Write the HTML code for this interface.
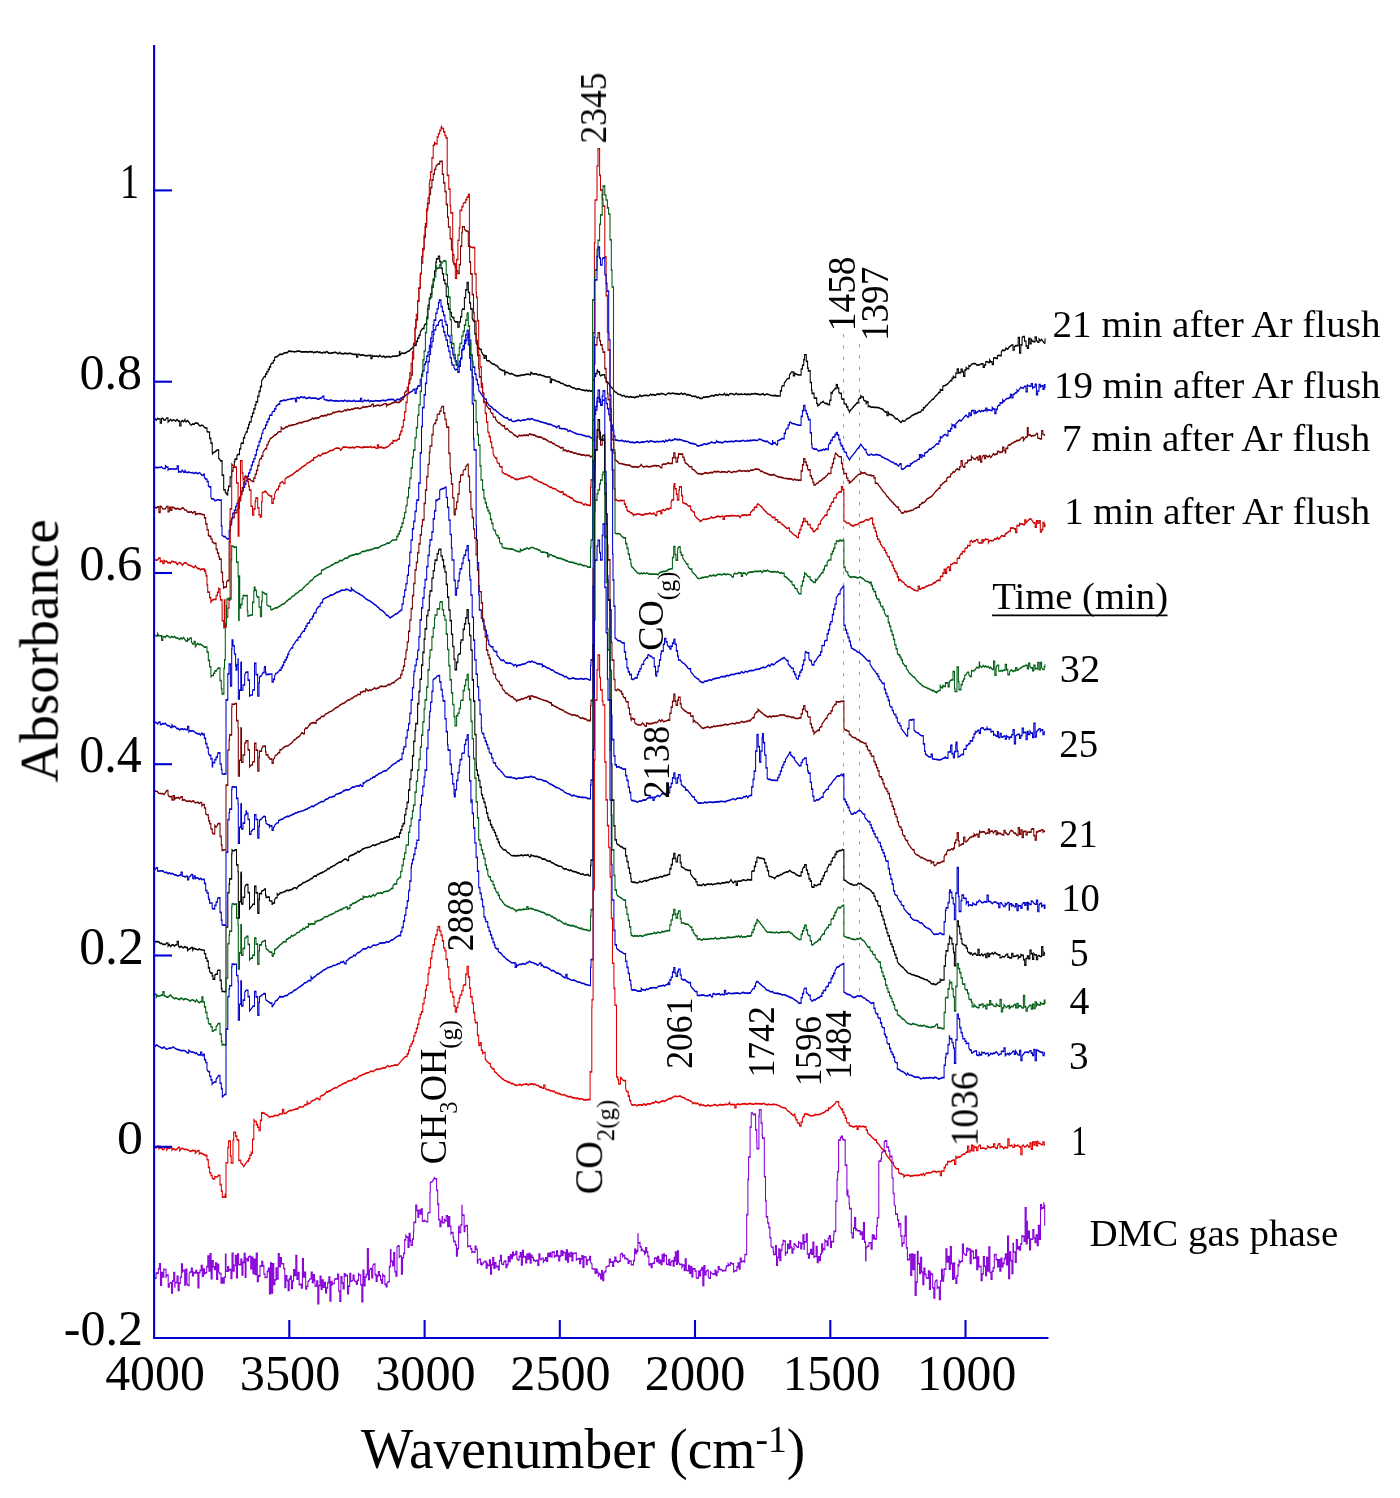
<!DOCTYPE html>
<html><head><meta charset="utf-8"><title>IR spectra</title><style>
html,body{margin:0;padding:0;background:#fff;overflow:hidden;width:1400px;height:1498px;}
svg{display:block;}
text{font-family:"Liberation Serif", serif;fill:#000;}
</style></head><body>
<svg width="1400" height="1498" viewBox="0 0 1400 1498">
<rect width="1400" height="1498" fill="#fff"/>
<path d="M843.6 334 V962" stroke="#9a9a9a" stroke-width="1" stroke-dasharray="3.3 8"/><path d="M859.5 344 V995" stroke="#9a9a9a" stroke-width="1" stroke-dasharray="3.3 8"/>
<g transform="scale(1,1.6)"><path d="M155.0 261.63L156.3 262.64L157.6 261.49L158.9 261.89H160.2V264.36H161.5V261.73L162.8 261.43L164.1 262.62L165.4 262.51L166.7 261.26H168.0V263.74L169.3 263.02L170.6 262.10L171.9 263.09L173.2 262.37L174.5 262.65L175.8 263.19L177.1 262.09L178.4 263.17H179.7V266.10H181.0V263.70L182.3 262.84L183.6 263.57L184.9 262.21L185.0 263.10L186.2 263.59L187.5 262.80L188.8 263.74L190.1 264.98L191.4 265.71L192.7 264.90L194.0 265.15L195.3 264.37L196.6 264.46L197.9 264.57L199.2 265.89L200.5 266.24L201.8 265.67L203.0 266.04L204.4 266.98L205.7 267.55L206.0 267.48H207.0V269.68L207.7 269.98H209.6V274.04H210.9V276.69L210.9 276.90H212.2V282.71L212.5 283.70L213.5 282.77L214.8 282.47L216.1 281.80L217.3 281.29H218.7V286.40L220.0 287.22L220.5 288.06H222.1V296.90H223.7V306.11H225.2V307.67L226.5 308.41L226.9 309.12H227.8V306.41H228.5V304.03H230.1V298.13H231.7V294.54H233.0V292.22L233.3 291.93H234.3V288.43H234.9V286.93H236.9V284.73L238.1 283.99H239.5V280.61H240.8V278.00L241.3 276.92H243.4V273.63H244.7V272.05L246.0 270.74L246.2 269.97H247.3V267.62H248.6V265.42H249.4V263.73H251.2V260.39H252.5V257.80L252.6 258.19H253.8V255.54H255.1V253.07H256.0V251.16H257.7V247.72H259.0V244.59H260.3V241.67H261.6V238.39L262.0 237.54L262.9 236.78L264.2 235.43H265.5V233.83H266.8V232.33H268.1V230.86H269.4V229.35H270.7V227.90L272.0 226.87H273.3V225.31H274.6V223.42L275.4 223.11L277.2 222.92L278.5 222.18L279.8 221.37L281.1 221.49L282.4 221.39L283.7 220.86L285.0 220.32L286.3 220.59L287.6 220.25L288.8 219.37L290.2 219.65L291.5 219.56L292.8 219.71L294.1 219.94L295.4 219.80L296.7 219.63L298.0 219.46L299.3 219.46L300.6 219.72L301.9 220.09L303.2 219.88L304.5 219.85L305.8 219.95L307.1 219.92L308.4 220.11L309.7 219.68L310.0 219.83L311.0 219.90L312.3 219.73L313.6 220.54L314.9 220.07L316.2 220.07L317.5 219.74L318.8 220.28L320.1 220.06L321.4 220.58L322.7 220.53L324.0 220.11L325.3 220.47L326.6 219.62L327.9 220.23L329.2 220.80L330.5 220.70L331.8 220.56L333.1 220.53L334.4 220.17L335.7 220.22L336.8 220.64L338.3 221.19L339.6 220.15L340.9 220.99L342.2 221.05L343.5 221.21L344.8 220.76L346.1 220.91L347.4 221.13L348.7 220.89L350.0 220.90L351.3 221.06L352.6 221.34L353.9 221.53L355.2 221.48H356.5V223.04H357.8V221.42L359.1 221.47L360.4 222.05L361.7 221.78L363.0 221.83L363.5 221.95L365.6 222.32L366.9 222.39L368.2 222.21L369.5 222.14H370.8V223.94H372.1V222.33L373.4 222.74L374.7 222.49L376.0 222.64L377.3 222.52L378.6 222.97L379.9 222.07L381.2 222.82L382.5 222.98L383.8 222.51L385.1 223.50L386.4 222.91L387.7 222.97L389.0 222.77L390.0 223.20L391.6 222.99L392.9 222.60L394.2 222.66L395.5 222.63L396.8 222.62L398.1 222.17H399.4V219.74H400.0V221.83L402.0 220.67L403.3 220.75L404.6 220.80L405.9 220.37L407.2 219.84L408.5 219.42L409.0 219.51L411.1 218.14L412.4 217.51L413.7 216.55L415.0 215.57L415.0 215.76H416.3V213.32H417.6V211.38H418.9V209.64H420.2V207.60L420.4 207.45L421.5 206.19L422.8 205.28H424.1V203.66L425.2 202.53H426.7V198.96H428.0V190.55L428.0 190.72H429.3V186.63H430.6V183.64H431.9V179.37L432.0 179.40H433.2V174.36H434.5V169.49H435.8V164.01H436.4V161.85H438.3V160.14H439.7V163.56H441.0V167.64H442.3V170.34L442.6 171.15H443.6V175.04H444.9V177.36H446.2V185.32H447.5V189.97H448.4V193.22H450.1V195.34H451.4V197.41L452.7 198.49H454.0V199.98L455.3 201.15L456.6 201.12H457.8V204.39H459.2V201.23H460.5V198.09H461.8V194.33L462.4 193.17H464.4V186.11H465.7V181.15H467.0V176.92L467.0 176.68H468.3V182.82H469.6V189.31H470.6V193.04H472.2V199.16L473.5 200.52H474.8V208.75H476.1V214.08L476.4 214.91H477.4V217.78L478.7 217.13L480.0 218.38H481.3V219.80L482.6 221.14L483.5 221.98H484.0V223.82H485.2V222.41H486.5V225.15L487.8 225.62L489.1 225.35L490.4 226.49L491.7 227.05L493.0 227.61L493.4 227.55L494.3 227.52L495.6 228.37L496.9 228.43L498.2 229.52L499.5 230.70L500.8 230.88L502.1 231.49L503.4 231.67H504.7V234.14H505.0V232.41L506.0 232.75L507.3 232.77L508.6 233.09L509.9 233.87L511.2 233.36L512.5 233.73L513.8 234.24L515.1 234.63L516.4 234.90L516.7 234.88L517.7 234.96L519.0 234.74L520.3 234.75L521.6 234.23L522.9 234.47L524.2 234.34L525.5 233.97L526.8 233.97L528.1 233.75L529.4 234.16H530.7V232.78L532.0 233.13L533.0 233.80L534.6 233.58L535.9 233.70L537.2 233.98L538.5 234.50L539.8 234.04L541.1 234.47L542.4 234.84L543.7 234.77L545.0 235.42L546.3 235.61L547.0 235.57L548.9 235.63H550.2V238.94H551.5V236.95L552.8 237.28L554.1 237.53L555.4 237.85L556.7 238.43L558.0 238.54L559.3 238.71L560.6 239.43L561.9 239.59L563.2 239.70L563.5 239.92L564.5 240.55L565.8 240.69L567.1 241.36L568.4 240.95L569.7 241.17L571.0 241.79L572.3 242.35L573.6 242.42L574.9 242.67L576.2 243.37L577.5 243.06L577.5 243.02L578.8 243.03L580.1 243.27L581.4 243.58L582.7 243.88L584.0 243.82L585.3 244.25L586.6 243.70L587.9 244.59L589.2 243.94L590.5 244.61L591.5 244.30H592.5V237.53H594.4V235.04H595.7V233.48H597.0V231.85L597.3 231.23L598.3 232.40H599.6V234.01L600.5 234.89L602.2 234.37L603.0 234.24H604.8V236.10H606.1V237.96L607.4 238.78L608.7 239.57L610.0 240.86L610.2 241.33L611.3 241.99L612.6 242.71L613.9 243.91L614.9 244.91L616.5 245.28L617.8 246.23L619.1 246.52L620.4 246.55L621.7 247.28L621.9 247.40L623.0 247.22L624.3 247.20L625.6 248.19L626.9 247.68L628.2 248.00L629.5 248.15L630.8 247.87L632.1 248.20L633.4 248.27L633.6 248.14L634.7 248.66L636.0 248.04L637.3 247.81L638.6 247.97L639.9 246.74L641.2 247.90L642.5 247.40L643.8 247.20L645.1 247.10L646.4 247.08L647.7 247.29L649.0 247.33L650.3 246.37L651.6 246.92L652.9 246.53L654.2 246.94L655.5 246.92L656.8 246.36L657.0 246.52L658.1 246.24L659.4 246.56L660.7 245.93L662.0 246.01L663.3 246.07L664.6 246.54L665.9 246.81L667.2 246.08L668.5 245.66L669.8 245.97L670.0 245.86L671.1 246.09L672.4 245.67L673.7 245.91L675.0 246.04L676.3 246.21L677.6 246.07L678.9 246.48L680.2 246.18L681.5 245.67L682.8 246.46L684.1 246.15L685.0 245.87L686.7 246.96L688.0 246.47L689.3 246.99L690.6 246.98L691.9 247.78L693.2 247.51L694.5 247.90L695.8 247.66L697.1 248.67L698.4 248.18L699.7 248.96L700.0 248.84L701.0 248.98L702.3 249.00L703.6 248.02L704.9 248.31L706.2 248.09L707.5 248.03L708.8 248.07L710.1 247.65L711.4 247.24L712.7 247.30L714.0 247.61L715.3 246.70L716.6 246.91L716.7 246.79L717.9 247.16L719.2 246.36L720.5 246.69L721.8 246.73L723.1 246.77L724.4 245.90L725.7 247.11L727.0 246.36L728.3 247.22L729.6 246.25L730.9 246.03L732.2 246.11L733.5 246.56L734.8 246.62L736.1 245.82L737.4 246.54L738.7 246.31L740.0 246.56L741.3 246.22L742.6 246.55L743.9 246.43L744.8 246.15L746.5 246.66L747.8 246.31L749.1 246.46L750.4 246.60L751.7 245.98L753.0 246.23L754.3 246.02L755.6 245.98L756.9 246.32L758.2 246.35L759.5 246.62L760.8 246.64L762.1 246.24L763.4 246.01L763.5 246.52L764.7 246.95L766.0 246.43L767.3 246.31L768.6 246.56L769.9 246.87L771.2 247.21L772.5 247.28L773.8 247.24L775.1 247.15L776.4 247.38L777.7 247.35L778.4 247.51H780.3V244.26H781.6V242.24L782.1 241.09H784.2V239.43L785.5 238.37L786.8 237.07L787.8 236.55H789.4V234.51L790.7 233.19L791.5 232.48H793.3V234.86H794.6V233.11L795.9 233.91L797.2 233.98L798.5 234.34L799.0 234.39H801.1V230.64H802.4V228.38L802.7 228.20H803.7V224.74H804.6V221.73H806.3V225.85H807.6V230.05H808.3V231.81H810.2V239.08H811.5V243.88H812.0V245.90H814.1V248.68L815.4 248.84H816.7V252.17H817.7V253.58L819.3 253.05L820.6 251.85L821.9 251.44L823.2 250.92L823.3 251.23L824.5 251.92L825.8 252.24L827.1 252.12L828.0 252.94H829.7V250.14H831.0V245.34L832.3 245.82L832.6 244.70L833.6 243.99L834.9 242.91H836.2V240.48L836.4 240.60H837.5V242.51H838.8V245.28L840.1 245.90H841.4V248.60L842.0 249.40H844.0V251.45L845.3 252.76H846.6V254.28H847.9V255.77L849.2 256.92L849.4 257.63L850.5 256.36L851.8 255.58L853.1 254.54L854.4 253.63L855.7 252.80L856.9 251.81H858.3V249.97L859.6 248.81H860.7V247.30L862.2 248.25H863.5V249.85L864.8 250.64H866.1V252.18L867.4 251.17H868.1V253.97L870.0 253.93L871.3 254.60L872.6 254.39L873.9 254.56L875.2 254.52L876.5 254.66L877.8 254.75L878.7 254.75L880.4 255.34L881.7 255.50L883.0 256.00L884.3 257.03L885.6 257.54H886.9V259.70H888.2V257.61L889.5 258.98L890.8 259.09L892.1 259.44L893.4 259.93L893.6 259.97L894.7 261.08L896.0 261.75L897.3 261.67L898.6 262.61L899.9 263.45L901.1 264.11L902.5 262.80L903.8 263.27L905.1 263.00L906.4 261.96L907.7 261.57L908.6 261.35L910.3 260.78L911.6 259.87L912.9 259.48L914.2 259.08L915.5 258.54L916.8 258.50L918.1 257.92L919.4 257.64L919.8 257.56L920.7 257.44L922.0 256.18H923.3V254.78L924.6 254.89L925.9 253.65L927.2 253.20L928.5 251.93L929.8 251.33L931.1 250.38L932.4 249.61L933.7 249.32L934.8 248.04L936.3 247.19L937.6 246.34L938.9 245.20H940.2V243.50L941.5 243.80H942.8V241.41L944.1 241.16L945.4 240.80L946.7 240.38L948.0 239.74L949.3 238.86L950.6 237.88H951.9V236.48H953.2V234.72L953.5 235.58L954.5 235.82H955.8V233.30H957.1V230.70H958.4V233.12L959.7 232.91H961.0V230.83H962.3V232.29H963.6V235.08H964.9V231.16H966.2V229.72L967.5 230.49H968.8V228.55L970.1 229.00L971.4 227.75L972.1 227.49L974.0 227.25L975.3 227.26L976.6 228.03L977.9 228.20L979.2 228.12L980.5 227.64L981.8 227.37H983.1V229.49H984.4V228.11H985.7V226.21L987.0 225.96L988.3 226.45H989.6V224.88L990.8 226.18H992.2V227.76H993.5V223.86L994.8 223.55L996.1 224.00H997.4V222.45L998.7 222.03L1000.0 222.23H1001.3V219.96L1002.6 218.74L1003.9 219.10L1005.2 218.85L1005.8 217.58L1007.8 218.24L1009.1 216.91L1010.4 216.45L1011.7 215.63H1013.0V218.73H1014.3V216.86L1015.6 216.06L1016.9 216.02H1018.2V211.07H1019.5V220.57H1020.8V215.53H1022.1V210.81L1023.4 210.42H1024.5V213.14H1026.0V216.21H1027.3V217.61H1028.6V211.66H1029.9V214.82H1031.2V211.97L1032.5 213.23L1033.8 213.48H1035.1V210.66H1036.4V212.55L1037.7 213.81H1039.0V211.82L1040.3 212.99L1041.6 212.05L1042.9 213.33L1044.2 214.34H1045.0V211.44" fill="none" stroke="#000000" stroke-width="1.05"/>
<path d="M155.0 291.92L156.3 292.22L157.6 292.31L158.9 292.05L160.2 292.30L161.5 291.68L162.8 292.69L164.1 292.81H165.4V291.09L166.7 291.90H168.0V293.73L169.3 292.99L170.6 293.18L171.9 293.13L173.2 293.08L174.5 293.29L175.8 293.00H177.1V291.25H178.4V295.01L179.7 294.62L181.0 295.19L182.3 293.82L183.6 295.06H184.9V293.62L185.0 293.94L186.2 295.17L187.5 295.43L188.8 294.97L190.1 295.30L191.4 295.47L192.7 295.38L194.0 296.03L195.3 295.22L196.6 295.72L197.9 296.07L199.2 295.37L200.5 295.93L201.8 296.92L203.1 297.05L203.4 296.46H204.4V298.43L205.7 299.43H207.0V300.99L207.4 300.93H208.3V303.75L209.6 304.25H210.9V310.41L211.4 311.70L213.5 311.77L214.8 312.82L216.1 312.71L217.4 312.36L218.7 312.33L219.4 312.57H221.3V328.63H222.0V334.54L223.9 335.44L225.2 335.21L226.5 336.49L227.4 336.85H229.1V331.55H230.4V327.90H231.7V323.97H232.7V320.91H234.3V318.89H235.6V316.56H236.9V314.56H238.2V312.48H239.5V310.76H240.8V308.10L242.1 306.74H243.4V304.36L243.4 304.50H244.7V302.60H246.0V300.16H247.3V297.71H248.6V295.73H249.9V293.57H251.2V290.87L251.4 290.91H252.5V288.64H253.8V286.73H255.1V284.34H256.4V281.16H257.7V278.73H259.0V276.01H260.3V273.97H261.6V271.63L262.0 270.78H262.9V269.01L264.2 267.80H265.5V265.67H266.8V263.68H268.1V261.96H269.4V260.01L270.0 259.42H272.0V257.76L273.3 257.04H274.6V255.51H275.9V254.08L277.2 253.27L278.5 252.59H279.8V251.03L280.8 250.56L282.4 250.59L283.7 249.91L285.0 250.37L286.3 250.08L287.6 249.67L288.9 249.67L290.2 249.38L291.5 249.26L292.8 249.13L294.1 249.07H295.4V250.83H296.7V248.55L298.0 248.33L299.3 249.03L300.6 247.99L301.9 248.10L302.0 248.23L303.2 248.50L304.5 248.11L305.8 248.97L307.1 248.99L308.4 248.50L309.7 248.34L311.0 248.96L312.3 248.82L313.6 248.88L314.9 248.83L316.2 248.98L317.5 249.29L318.8 249.59L320.1 248.85L321.4 248.86L322.7 247.74H324.0V249.48L325.3 250.00L326.6 249.93L327.9 250.34L329.2 250.34L330.5 250.10L331.8 250.23L333.1 250.46L334.4 250.67L335.7 250.38L336.8 250.50L338.3 250.66L339.6 250.62L340.9 250.59L342.2 250.35L343.5 250.80L344.8 250.15L346.1 250.50L347.4 250.99L348.7 250.32L350.0 250.75L351.3 250.76L352.6 250.75L353.9 250.16L355.2 250.92L356.5 250.67L357.8 250.77L359.1 250.72H360.4V249.07H361.7V250.98L363.0 251.04L364.3 250.11L365.6 250.41L366.9 250.59L368.2 250.02L369.5 251.04L370.8 250.42L372.1 250.79L373.4 250.69L374.7 250.57L376.0 250.35L376.8 250.60L378.6 250.56L379.9 250.69L381.2 250.34L382.5 250.22L383.8 250.19L385.1 250.55L386.4 250.20L387.7 249.86L389.0 249.62L390.3 249.79L391.6 249.58L392.9 249.65L394.2 250.08L395.5 250.97L396.8 249.62L398.1 249.60L399.4 249.90L400.0 249.28L402.0 248.70L403.3 248.00L404.6 247.57L405.9 247.03L407.2 246.39L408.5 246.11L409.3 245.45L411.1 244.88L412.4 244.38L413.7 243.32H415.0V245.72H416.3V242.91H417.6V241.52L418.7 241.22H420.2V237.24H421.5V233.99H422.4V231.82H424.1V227.69H425.4V226.19H426.7V222.56H428.0V220.03L428.0 220.00H429.3V216.05H430.6V211.54H431.9V207.33H433.2V203.00H434.0V200.07H435.8V195.77H437.1V192.95H438.4V189.19H439.3V187.58H441.0V191.67H442.3V194.59H443.6V197.16H444.9V200.94H446.0V203.07H447.5V208.87L448.8 210.12H450.1V214.07H451.4V217.42H452.7V220.86L453.0 221.82H454.0V223.94H455.3V225.47H456.6V227.60H457.8V229.56L459.2 228.83H460.5V224.17H461.8V218.54L463.1 218.13H464.4V215.48L464.8 214.60H465.7V212.83H467.0V210.79H468.3V208.89L468.3 209.00H469.6V212.74H470.9V221.75H472.2V226.01H473.0V229.41H474.8V233.86H476.1V237.26H477.4V240.31H478.7V243.91L478.8 243.98L480.0 245.12L481.3 246.38L482.6 247.55L483.9 248.51L485.2 249.53H486.5V251.08L487.8 252.14L488.7 253.08L490.4 253.96L491.7 254.44L493.0 255.42L494.3 256.05L495.6 256.34L496.9 257.35L498.2 257.63L499.5 258.76L500.4 259.05L502.1 259.64L503.4 260.39L504.7 260.91L506.0 261.24L507.3 261.09L508.6 262.13L509.9 262.64L511.2 262.02L512.0 263.29L513.8 263.43L515.1 263.23L516.4 263.14L517.7 262.57L519.0 262.58L520.3 263.03L521.6 262.84L522.9 262.48L524.2 262.70L525.5 262.37L526.8 262.07L528.1 261.64L529.4 262.27L530.7 261.86L530.7 261.90L532.0 261.61L533.3 262.19L534.6 262.66L535.9 262.74L537.2 262.84L538.5 262.97L539.8 263.57L541.1 263.65L542.4 263.89L543.7 264.14L545.0 264.27L546.3 264.59L547.0 264.76L548.9 265.22L550.2 265.10L551.5 265.44L552.8 266.03L554.1 266.24L555.4 266.61L556.7 267.39L558.0 266.28H559.3V267.69L560.6 267.76L561.9 267.88L563.2 267.96L564.5 267.94L565.8 268.33L567.1 268.35L568.0 269.67L569.7 269.06L571.0 269.48L572.3 269.99L573.6 270.13L574.9 270.74L576.2 270.99L577.5 271.26L578.8 271.46L580.1 271.55L581.4 271.57L582.7 272.09L584.0 272.14L585.3 272.40L586.6 272.81L587.9 272.64L589.2 272.74L590.5 273.53L591.5 273.77H592.5V262.59H594.4V258.80H595.7V254.11H597.0V251.07H598.0V248.56H599.6V251.31H600.5V253.28H602.2V247.62H603.0V244.29H604.8V248.95H606.1V252.17H607.4V255.39H608.7V259.07H610.0V262.47L610.0 262.51H611.3V265.82H612.6V269.19H613.9V272.63H615.0V274.99L616.5 275.06L617.8 275.23L619.1 275.45L620.4 275.40L621.7 275.26L623.0 275.50L624.3 275.96L625.6 275.57L626.9 276.19L628.2 275.68L629.5 276.34L630.8 276.44L632.1 276.32L633.4 276.48L633.6 276.48L634.7 276.94L636.0 276.31L637.3 276.19L638.6 276.46L639.9 276.62L641.2 276.37L642.5 276.20L643.8 276.49L645.1 275.95L646.4 275.91L647.7 275.74L649.0 276.38L650.3 275.39L651.6 275.61L652.9 276.00L654.2 276.01L655.5 276.34L656.8 275.94L657.0 275.77L658.1 276.14L659.4 275.98L660.7 275.94L662.0 275.84L663.3 275.62L664.6 276.34L665.9 275.05L667.2 275.82L668.5 275.22L669.8 274.62L670.0 275.13L671.1 275.33L672.4 275.09L673.7 274.90L675.0 274.18L676.3 274.76L677.6 274.63L678.9 275.05L679.3 274.56L680.2 274.74L681.5 274.92L682.8 275.29L684.1 275.68L685.4 275.74L686.7 275.92L688.0 276.11L689.3 276.77L690.6 276.92L691.9 277.21L693.2 277.16L694.5 277.64L695.8 277.62L697.1 278.69L698.0 278.72L699.7 278.52L701.0 278.21L702.3 278.21L703.6 277.50L704.9 277.38L706.2 277.91L707.5 277.13L708.8 277.24L710.1 276.90L711.4 276.24L712.7 276.57L714.0 276.82L715.3 276.79L716.6 275.56L716.7 276.12L717.9 276.06L719.2 276.47L720.5 276.51L721.8 276.59L723.1 276.59L724.4 275.97L725.7 275.79L727.0 276.30L728.3 275.94L729.6 276.00L730.9 275.86L732.2 275.83L733.5 276.16L734.8 275.60L736.1 275.37L737.4 275.64L738.7 275.83L740.0 275.69L741.3 275.71L742.6 275.17L743.9 275.46L744.8 275.78L746.5 275.51L747.8 275.26L749.1 275.67L750.4 275.10L751.7 275.37L753.0 275.12L754.3 275.07L755.6 275.15L756.9 275.39L758.2 275.02L759.5 274.33L759.7 274.47L760.8 274.71L762.1 275.04L763.4 275.58L764.7 275.68L766.0 276.02L767.3 275.78L768.6 276.53L769.9 276.99L771.2 277.61H772.5V275.59H772.8V277.50L773.8 276.77L775.1 276.60L776.4 277.98H777.7V275.57L779.0 275.16L780.3 274.76L781.6 274.24L782.1 274.12H784.2V270.87H785.5V268.98L786.8 267.81H788.1V265.63H789.4V264.19L789.6 263.99L790.7 263.96L792.0 264.65L793.3 264.85L794.6 264.95L795.9 265.33L797.2 265.64L798.5 265.55L799.0 265.80H801.1V260.18H802.4V256.68H803.6V253.46H805.0V256.58H806.3V258.60H807.6V260.53H808.3V262.29H810.2V270.54H811.5V277.50H812.0V279.87L814.1 280.68L815.4 280.65L816.7 280.69L818.0 281.74L819.3 281.79L819.5 281.67L820.6 281.38L821.9 281.52L823.2 280.74L824.5 281.26L825.8 280.43L827.0 280.85H828.4V278.31L829.7 277.00H830.7V275.20H832.3V273.63L833.6 273.07H834.9V271.67H836.2V270.03L836.4 270.40H837.5V271.89H838.8V274.71H840.1V277.10H841.0V278.56H842.7V280.60H844.0V282.03L845.3 282.83H846.6V284.60L847.9 285.77L849.2 287.07L849.4 287.51L850.5 286.21L851.8 285.20L853.1 284.16L854.4 283.23L855.7 282.17L856.9 280.85L858.3 280.01L859.6 278.95L860.7 277.60L862.2 278.89L863.5 279.93L864.8 281.00H866.1V282.63L867.4 283.74L868.1 284.43L870.0 284.25L871.3 283.80L872.6 284.34L873.9 284.37L875.2 284.32L876.5 284.02L877.8 284.34L878.7 284.42L880.4 284.64L881.7 285.55L883.0 285.76L884.3 286.22L885.6 286.70L886.9 286.93L888.2 287.39L889.5 287.97L890.8 288.44L892.1 288.89L893.4 289.00L893.6 289.19L894.7 289.92L896.0 289.77L897.3 290.62L898.6 291.30L899.9 289.97H901.2V292.95L902.5 293.35L903.0 293.23L905.1 292.35L906.4 291.47L907.7 291.06L909.0 291.18H910.3V289.79L911.6 289.93L912.9 289.03L914.2 288.61L915.5 288.14L916.1 288.09L918.1 287.03H919.4V284.25H920.7V285.92H922.0V284.37L923.3 284.87H924.6V283.23L925.9 282.85L927.2 282.60L928.5 281.41L929.8 280.62L931.1 280.91L932.4 279.69L933.7 279.55L934.8 278.68L936.3 277.50L937.6 277.43H938.9V275.68H940.2V272.99L941.5 273.59L942.8 272.63L944.1 271.88L945.4 271.44L946.7 272.24H948.0V269.17L949.3 269.40H950.6V267.84H951.9V265.25L953.2 266.16L953.5 265.65H954.5V267.07H955.8V264.78L957.1 264.10L958.4 263.13L959.7 262.49L961.0 263.13L962.3 262.28L963.6 261.20L964.9 260.17L966.2 259.50L967.5 260.53H968.8V258.14H970.1V259.56H971.4V256.87L972.1 256.68H974.0V258.43H975.3V256.82L976.6 258.02L977.9 257.17L979.2 256.60L980.5 257.49L981.8 256.48L983.1 257.02L984.4 256.52H985.7V255.14H987.0V256.89L988.3 256.06L989.6 256.35L990.8 256.54H992.2V254.58L993.5 255.74H994.8V258.39H996.1V255.87H997.4V254.30L998.7 253.29H1000.0V251.80L1001.3 251.81H1002.6V249.91L1003.9 251.09L1005.2 249.93L1006.5 249.19L1007.8 249.00L1009.1 248.87L1009.5 248.33H1010.4V246.60H1011.7V248.58H1013.0V246.63L1014.3 246.34L1015.6 245.39H1016.9V243.77L1018.2 244.46L1019.5 243.13L1020.8 242.01L1022.1 242.48L1023.4 242.59L1024.5 241.45H1026.0V244.83H1027.3V240.67L1028.6 241.08L1029.9 241.38H1031.2V239.91H1032.5V242.65L1033.8 241.87H1035.1V240.27H1036.4V246.65H1037.7V244.38H1039.0V240.44H1040.3V241.91L1041.6 241.14H1042.9V243.27H1044.2V240.58H1045.0V242.62" fill="none" stroke="#0000cd" stroke-width="1.05"/>
<path d="M155.0 316.94L156.3 317.57L157.6 316.84H158.9V320.22H160.2V316.46L161.5 316.74L162.8 318.11L164.1 318.12L165.4 317.96L166.7 316.66H168.0V319.78H169.3V317.14H170.6V318.78H171.9V317.03L173.2 317.14L174.5 317.59L175.8 318.17L177.1 317.73L178.4 317.96L179.7 318.36L181.0 318.28L182.3 317.28L183.6 317.70L184.7 318.72L186.2 318.76L187.5 319.99L188.8 320.03L190.1 320.08L191.4 319.73L192.7 320.80L194.0 319.92H195.3V321.67L196.6 320.99L197.9 321.23L199.2 320.93L200.5 321.07L201.8 321.49L203.1 321.58L203.4 321.74H204.4V323.68H205.7V327.46H207.0V331.09H208.3V334.58L208.7 334.52L209.6 335.23H210.9V336.86H212.2V338.69L213.5 339.05L214.0 339.56H216.1V343.41H217.4V345.74H218.7V347.96H219.4V349.45H221.3V357.79H222.6V363.63H223.4V367.54L225.2 366.81H226.5V363.92L227.4 362.89H229.1V338.55H230.0V325.94H231.7V324.49L233.0 323.39H234.3V320.69L235.6 320.41H236.9V318.76L238.0 317.51H239.5V312.85H240.8V309.00H242.1V304.96H243.4V301.49H244.7V297.43L244.7 297.49L246.0 297.67L247.3 298.98L248.6 299.40L249.9 299.44L251.2 300.45L252.5 300.77L252.7 300.87H253.8V298.78H255.1V296.39H256.4V293.97H257.7V291.01H259.0V288.66L259.4 287.57L260.3 286.60H261.6V285.08H262.9V282.81L264.2 281.47L265.5 280.39H266.8V277.99H268.1V276.52L269.4 275.67L270.0 274.30L272.0 273.41L273.3 272.78L274.6 271.96L275.9 271.63L277.2 270.94L278.5 269.84L279.8 269.86H281.1V266.96L282.4 267.91L283.4 268.06L285.0 267.27L286.3 266.66L287.6 266.79L288.9 265.86L290.2 266.09L291.5 265.73L292.8 265.54L294.1 265.47L295.4 265.31L296.7 264.79L298.0 264.76L299.3 264.09L300.6 264.16L301.9 264.28L303.2 263.58L304.5 263.44L305.8 263.28L307.1 263.26L308.4 262.90L309.7 262.50L310.0 262.41L311.0 262.37L312.3 261.26L313.6 261.93L314.9 261.37L316.2 261.51L317.5 261.07L318.8 261.22L320.1 260.43L321.4 259.81L322.7 260.12L324.0 259.74L325.3 259.61L326.6 259.72L327.9 258.90L329.2 259.09L330.5 258.91L331.8 258.72L333.1 257.62L334.4 257.98L335.7 257.50L336.8 257.48L338.3 257.09L339.6 257.07L340.9 257.27L342.2 257.33L343.5 256.90L344.8 256.21L346.1 256.74L347.4 255.90L348.7 255.99L350.0 256.25L351.3 255.63L352.6 255.84L353.9 255.41L355.2 255.01L356.5 255.24L357.8 254.88L359.1 255.36L360.4 255.23L361.7 255.01L363.0 254.14L363.5 254.53L365.6 254.30L366.9 254.27L368.2 254.09L369.5 253.79L370.8 253.89L372.1 252.70H373.4V254.10L374.7 253.74L376.0 253.49L377.3 253.26L378.6 253.22L379.9 253.66L381.2 253.31L382.5 253.10L383.8 252.48L385.1 252.36H386.4V253.93L387.7 252.84L389.0 252.88L390.2 252.51L391.6 252.10L392.9 251.61L394.2 251.63L395.5 251.04L396.8 251.57L398.1 251.42L399.4 251.47L400.7 250.39L400.9 250.75L402.0 249.69H403.3V248.01H404.6V245.77L405.9 244.53L406.2 244.38H407.2V242.17H408.5V239.67H409.8V236.87H411.0V234.32H412.4V224.23H413.7V214.59H415.0V205.43H415.7V199.87H417.6V188.20H418.9V180.05H420.2V172.15L420.4 171.03H421.5V164.28H422.8V155.37H424.1V148.15H425.4V139.84H426.7V131.70H427.4V127.19H429.3V121.48H430.6V117.26H431.9V112.57H433.2V108.81H434.4V105.92H435.8V104.08L437.1 103.07L438.4 102.39H439.7V100.92L440.2 100.81H442.3V108.89H443.6V114.31H444.9V119.59L445.0 119.79H446.2V127.69H447.5V135.79H448.4V141.86H450.1V149.22H451.4V156.04H452.7V162.56L453.0 163.65L454.0 164.89H455.3V166.93H456.6V169.31H457.8V170.95H459.2V165.44H460.5V153.83H461.8V145.40H462.4V141.71H464.4V143.15L465.7 144.13L467.0 144.62L467.0 144.58H468.3V153.85H469.6V163.81H470.6V171.15H472.2V184.19H473.5V195.36H474.1V200.93H476.1V212.94H477.4V220.39H477.6V222.11H478.7V230.46H479.3V235.55H481.3V241.93H482.6V245.82H483.9V249.91L484.0 250.29L485.2 251.60H486.5V253.37L487.8 254.57L489.1 255.53H490.4V257.16L491.7 258.43H493.0V259.88L493.4 260.59L494.3 260.77H495.6V262.17L496.9 263.04L498.2 264.20L499.5 264.25L500.8 265.13L502.1 265.96L502.7 266.22H504.7V267.69L506.0 268.36L507.3 267.78L508.6 268.95L509.9 269.99L511.2 269.98L512.5 270.69L513.8 271.51L515.1 272.11L516.4 272.68L516.7 272.86L517.7 273.28L519.0 271.98L520.3 272.36L521.6 272.04L522.9 272.30L524.2 271.97L525.5 272.10L526.8 271.83L528.1 272.35L529.4 271.19L530.7 271.39L530.7 271.51L532.0 271.59L533.3 272.00L534.6 271.79L535.9 272.69L537.2 272.72L538.5 273.18L539.8 273.02L541.1 273.39L542.4 273.57L543.7 274.55L544.8 274.16L546.3 274.95L547.6 275.36L548.9 276.10L550.2 276.28L551.5 276.36L552.8 277.25L554.1 277.07L555.4 278.32L556.7 278.45L558.0 278.72L559.3 279.25L560.6 280.01L561.9 279.82H563.2V281.24L563.5 280.81L564.5 281.50L565.8 281.38L567.1 282.15L568.4 281.52L569.7 282.39L571.0 282.38L572.3 282.49L573.6 283.18L574.9 283.14L576.2 283.26L577.5 283.73L577.5 283.68L578.8 283.81L580.1 284.00L581.4 284.46L582.7 284.27L584.0 284.21L585.3 284.79L586.6 284.60L587.9 284.57L589.2 284.64L590.5 285.63L591.5 285.24H592.5V275.13H594.4V227.51H595.0V215.53H597.0V211.10H598.0V208.10H599.6V212.85H600.5V215.60H602.2V218.29H603.0V220.08H604.8V230.44H606.1V238.80H607.4V246.07H608.0V249.78H610.0V262.69H611.3V270.92H612.0V274.85H613.9V283.00H615.0V287.44L616.5 287.96L617.8 288.60L619.1 289.71L619.5 289.69L620.4 289.67L621.7 289.84L623.0 290.03L624.3 290.26L625.6 290.54L626.9 290.49L628.2 290.76L629.5 290.58L630.8 291.41L632.1 291.79L633.4 291.68L633.6 291.99L634.7 291.60L636.0 291.79L637.3 292.07L638.6 291.77L639.9 291.43L641.2 290.20L642.5 291.46L643.8 291.85L645.1 291.71L646.4 291.38L647.7 291.56L649.0 291.86L650.3 291.65L651.6 291.53L652.9 291.19L654.2 291.03L655.5 290.94L656.8 291.41L657.0 291.03L658.1 291.08L659.4 291.26L660.7 292.36H662.0V290.56L663.3 290.01L664.6 290.09L665.9 290.11L667.2 289.51L668.5 289.25L668.6 289.59L669.8 289.70L671.0 289.65H672.4V286.09H673.7V283.37L673.7 283.21H675.0V285.96H676.0V288.75H677.6V286.01H678.4V283.70L680.2 283.79L681.2 283.78H682.8V285.90H684.1V287.54H685.0V289.14L686.7 289.83L688.0 290.50L689.3 291.69L690.6 291.71H691.9V293.09L693.2 293.47L694.5 293.96L695.8 294.92L697.1 295.55L698.0 296.15L699.7 295.95L701.0 296.47L702.3 296.15L703.6 296.09L704.9 295.35L706.2 295.52L707.5 295.88L708.8 295.63L710.1 295.39L711.4 295.28L712.7 295.53L714.0 294.61L715.3 294.83L716.6 294.60L716.7 295.10L717.9 294.57L719.2 294.86L720.5 295.29L721.8 294.79L723.1 294.93L724.4 294.83L725.7 294.98L727.0 295.39L728.3 294.40L729.6 294.69L730.9 295.15L732.2 295.32L733.5 294.56L734.8 294.98L736.1 294.75L737.4 294.71L738.7 294.10L740.0 294.01L741.3 294.49L742.6 294.38L743.9 294.36L744.8 294.27L746.5 294.63L747.8 294.06L749.1 294.77L750.4 293.82L751.7 293.88L753.0 293.88L754.3 293.45L755.6 293.16L756.9 293.17L757.9 293.25L759.5 293.60L760.8 294.71L762.1 294.40L763.4 295.17L764.7 295.58L766.0 295.80L767.2 296.03L768.6 296.49L769.9 296.82L771.2 296.81L772.5 296.97L773.8 296.56L775.1 297.07L776.4 297.54L777.7 297.85L779.0 298.22L780.3 298.12L781.6 298.47L782.1 298.41L784.2 298.89L785.5 299.06L786.8 298.95L788.1 299.39L789.4 299.17L790.7 299.25L792.0 299.44L793.3 300.22L794.6 299.33L795.9 299.98L797.2 299.96L798.5 300.23L799.0 300.12H801.1V294.32H802.4V290.50H803.6V286.79H805.0V288.78H806.3V290.85H807.6V293.04L808.3 293.68H810.2V297.37H811.5V299.05H812.8V301.53H813.9V303.05L815.4 303.06L816.7 302.05L818.0 301.94L819.3 300.73L819.5 300.76L820.6 300.59L821.9 299.82L823.2 299.07L824.5 298.68L825.8 297.80L827.1 296.94L828.4 295.85L828.9 295.93H831.0V292.18H832.3V289.60H833.6V286.62H834.9V284.46L835.4 283.30L837.5 284.39L838.8 285.31L840.0 285.49H841.4V289.61H842.7V293.25H843.8V296.11L845.3 295.94H846.6V298.75H847.9V300.48H849.2V301.98L849.4 302.07L850.5 301.14L851.8 300.76L853.1 299.81L854.4 299.11L855.7 298.10L857.0 297.49L858.3 296.56L859.6 296.39H860.7V294.98L862.2 295.65L863.5 295.59L864.8 295.44L866.1 296.26L867.4 296.74L868.7 296.88L870.0 297.15L871.3 296.97L871.9 297.34H873.9V298.72H875.2V302.05L876.5 301.87L877.8 302.30L879.1 303.64L880.4 304.56L881.7 305.86L882.4 306.65L884.3 307.74L885.6 308.89L886.9 310.14L888.2 310.82L889.5 312.05L890.8 312.74L892.1 313.76L893.4 314.32L893.6 314.89L894.7 315.27L896.0 316.40L897.3 317.04H898.6V318.46L899.9 318.93L901.2 320.30L902.0 320.86L903.8 320.42L905.1 319.41L906.4 320.06L907.7 319.56L909.0 319.41L910.3 319.09L911.6 319.03L912.9 318.72L914.2 318.14L915.5 317.53L916.1 317.75L918.1 316.92H919.4V315.48L920.7 315.36L922.0 314.12L923.3 314.26L924.6 313.78L925.9 312.81L927.2 311.75L928.5 311.40L929.8 310.87L931.1 310.45L932.4 309.68L933.7 308.87L934.8 307.70L936.3 306.77L937.6 306.13L938.9 305.05H940.2V303.24L941.5 303.17L942.8 302.02L944.1 301.57L945.4 300.76H946.7V298.95L948.0 298.40L949.3 297.99H950.6V296.44L951.9 296.11L953.2 294.76L953.5 294.89L954.5 295.04L955.8 293.79L957.1 292.88L958.4 293.50H959.7V291.71H961.0V287.99H962.3V290.60L963.6 291.93H964.9V289.71L966.2 289.21H967.5V287.72L968.8 287.91L970.1 287.47H971.4V285.17L972.1 285.73L974.0 286.88L975.3 287.03L976.6 285.85H977.9V287.45H979.2V285.13H980.5V288.68H981.8V286.11L983.1 284.81H984.4V286.51H985.7V284.61L987.0 285.12L988.3 285.60L989.6 284.63L990.8 285.95L992.2 284.74L993.5 283.52L994.8 284.37L996.1 283.62H997.4V282.11L998.7 282.11L1000.0 282.98L1001.3 282.42H1002.6V279.57H1003.9V281.58H1005.2V282.98H1005.8V280.18H1007.8V278.67L1009.1 277.89L1010.4 278.11L1011.7 277.05L1013.0 276.99L1014.3 276.15L1015.6 276.01L1016.9 275.30L1018.2 275.41L1019.5 275.08L1020.8 274.13L1022.1 273.32H1023.4V275.31L1024.7 274.08L1026.0 273.10H1027.3V267.38H1028.2V271.88L1029.9 271.64L1031.2 272.65L1032.5 272.29L1033.8 272.24L1035.1 272.21L1036.4 271.00H1037.7V273.73L1039.0 273.92L1040.3 274.26H1041.6V269.22H1042.9V271.47L1044.2 271.70L1045.0 272.12" fill="none" stroke="#780000" stroke-width="1.05"/>
<path d="M155.0 349.83L156.3 350.04L157.6 349.99L158.9 348.86H160.2V351.09L161.5 350.66H162.8V352.19H164.1V350.29L165.4 351.06L166.7 350.80L168.0 351.96L169.3 351.57L170.6 352.09L171.9 350.72L173.2 351.02L174.5 351.39L175.8 351.38L177.1 352.74L178.4 352.15L179.7 351.46L181.0 352.02L182.3 353.30L183.6 352.22L184.7 351.80L186.2 351.80L187.5 352.70L188.8 353.17L190.1 353.36L191.4 353.75L192.7 354.19L194.0 354.88L195.3 353.51L196.6 354.77L197.9 355.37L199.2 355.35L200.5 356.11L201.8 355.65L203.1 355.72H204.4V357.66L204.5 356.40H205.7V358.32H206.1V359.92H207.0V365.58H207.7V370.10H209.6V373.52H210.9V375.60L210.9 376.34L212.2 375.08L213.5 374.80L214.1 374.65H216.1V372.17H217.4V370.29H218.7V367.91L218.9 368.10H220.0V372.99H220.5V374.94H222.1V387.98H223.7V392.23H224.3V375.04H225.0V391.71H226.5V385.76H227.8V380.02H229.0V375.07H230.1V318.03H231.7V290.07L231.7 290.02L233.0 290.95L234.3 291.52L234.9 291.95H236.5V301.85H238.1V334.96H239.0V312.41H240.5V287.99H242.1V295.72H243.0V299.96L244.7 298.95L246.0 298.14L246.2 298.15H247.3V300.91H248.6V304.03H249.4V306.31H251.0V316.42H252.5V321.25L252.6 321.83H253.8V318.02H255.1V313.35H255.8V311.33H257.7V317.35H259.0V321.77L259.0 321.79H260.3V323.17L260.6 322.95H261.6V313.77H262.2V307.94L264.2 307.54L265.4 306.90L266.8 307.96L268.1 309.22L269.4 309.46L270.2 310.10H271.8V314.43H273.3V311.74H274.6V308.71L275.0 308.22L275.9 306.93L277.2 305.81H278.5V304.03H279.8V302.17L280.0 301.93L281.1 301.56L282.4 300.90L283.7 302.11H285.0V299.45L286.3 298.72L287.6 298.15L288.9 297.87L290.2 297.35L291.5 296.97L292.8 296.48L294.1 295.69L295.4 295.09L296.7 294.20L296.8 294.47L298.0 294.27L299.3 293.26L300.6 292.91L301.9 291.95L303.2 291.53L304.5 290.98L305.8 290.61L307.1 289.37L308.4 289.21L309.7 288.85L311.0 288.11L312.3 287.62H313.6V286.14L314.9 286.01L315.5 285.91L317.5 285.21L318.8 284.40L320.1 284.99L321.4 284.40L322.7 283.42L324.0 283.46L325.3 283.25L326.6 283.14L327.9 282.70L329.2 281.86L330.5 281.60L331.8 281.48L333.1 281.33L334.4 280.57L335.7 280.15L336.8 280.06L338.3 280.03L339.6 280.34L340.9 281.52L342.2 280.17L343.5 279.31L344.8 279.45L346.1 279.37L347.4 279.57L348.7 279.83L350.0 279.63L351.3 279.81L352.6 279.43L353.9 279.88L355.2 279.82L356.5 279.06L357.8 279.21L359.1 279.31L360.4 279.68L361.7 279.64L363.0 279.90L363.5 279.25L365.6 279.50L366.9 279.47L368.2 279.43L369.5 279.51L370.8 279.00L372.1 279.71L373.4 279.54L374.7 279.34L376.0 280.14H377.3V278.15H378.6V279.88L379.9 279.65L381.2 279.45L382.5 279.79L383.8 280.05L384.8 279.91L386.4 279.46L387.7 279.26L389.0 278.57L390.3 277.60L391.6 276.92H392.9V275.35L394.2 275.66L395.5 275.21L396.8 275.45L398.1 274.53L398.2 274.42H399.4V271.61H400.7V269.59H402.0V266.76H403.3V262.92L403.5 262.58H404.6V257.34H405.9V251.54H407.2V245.77H408.5V239.74H408.9V237.49H409.8V233.09H411.1V227.21H412.4V220.11H413.4V214.88H415.0V204.94H416.3V196.63H417.6V188.22H418.9V180.13H420.2V175.14H420.4V170.92H421.5V160.36H422.8V155.98H424.1V147.03H425.0V141.79H426.7V130.63H428.0V123.86H429.3V114.85H429.7V112.52H430.6V107.41H431.9V98.72H433.2V90.64L433.2 90.65H434.5V88.97L435.8 89.94H437.1V85.63H438.4V83.61H439.7V81.48H441.0V79.95L441.4 79.00L442.3 80.30H443.6V82.47H444.9V84.68H446.0V86.13H447.2V109.61H448.8V118.20H450.1V128.70H450.7V133.04H452.7V158.47L453.0 159.34H454.0V165.38H455.3V173.39L455.4 173.82H456.6V162.29H457.9V150.15H459.2V142.50H460.0V131.44H461.8V129.11H463.1V127.28L464.4 126.55H465.7V124.75H467.0V123.18H468.3V121.22L468.3 121.41H469.4V153.38L470.9 154.44L472.2 154.60L473.0 154.74H474.8V171.17H476.1V182.68H476.4V185.84H477.4V200.44H478.7V220.47H478.8V222.04H480.0V229.28H481.3V239.79H482.6V245.66H483.5V251.28H485.2V258.31H486.5V263.85H487.8V269.41L488.0 270.17H489.1V272.94H490.4V276.27H491.7V279.80H493.0V282.95L493.4 283.80L494.3 285.15L495.6 286.30H496.9V288.48L498.2 289.68H499.5V291.38L500.8 291.81H502.1V294.88L502.7 295.38L504.7 296.23L506.0 296.37L507.3 296.73L508.6 297.40L509.9 297.44L511.2 298.44L512.5 298.29L513.8 298.77L515.1 299.65L516.4 299.29L516.7 299.89L517.7 299.64L519.0 299.40L520.3 299.19L521.6 298.63L522.9 299.12L524.2 298.56L525.5 298.35L526.8 298.15L528.1 297.95L528.4 297.65L529.4 297.66L530.7 297.97L532.0 298.35L533.3 299.02L534.6 299.84L535.9 299.58L537.2 300.26L538.5 300.94L539.8 301.08L541.1 301.50L542.4 301.68L543.7 302.44L544.8 302.69L546.3 303.00L547.6 303.49L548.9 304.11L550.2 304.69L551.5 304.48L552.8 305.36L554.1 305.30L555.4 305.49L556.7 306.24L558.0 306.85L559.3 307.22L560.6 307.75L561.9 307.47H563.2V308.85L563.5 308.63L564.5 309.10L565.8 308.94L567.1 310.01L568.4 310.22L569.7 310.70L571.0 311.33L572.3 311.35L573.6 312.60L574.9 313.06L576.2 313.48L577.5 313.87L577.5 313.60L578.8 313.89L580.1 314.11L581.4 314.09L582.7 314.91L584.0 315.65L585.3 314.86L586.6 315.56L587.9 315.65L589.2 315.89L589.2 315.88H590.5V304.60H591.0V299.94H593.1V208.00H594.4V151.71H595.0V125.00H597.0V103.74H598.0V92.97H599.6V109.65H600.5V118.80H602.2V124.32H603.0V128.88H604.8V160.58H606.1V184.79H607.4V207.48H608.0V218.66H610.0V255.67H611.3V280.84H612.0V293.73H613.9V305.48H615.0V312.50L616.5 312.18L617.2 312.88L619.1 312.97L620.4 312.74L621.7 312.89L622.8 312.80H624.3V315.10H625.6V316.82H626.9V318.83L627.0 319.06L628.2 319.43L629.5 319.77L630.8 320.59L632.1 320.70L633.4 322.02L633.5 321.62L634.7 321.55L636.0 321.64L637.3 321.10L638.6 321.40L639.9 321.30L641.2 321.92L642.5 321.67L643.8 321.74L645.1 321.18L646.4 321.17L647.7 321.38L649.0 320.84L650.3 320.72L651.6 321.38L652.7 320.97L654.2 320.74L655.5 322.06H656.8V319.98L658.1 319.72L659.4 319.40H660.7V320.87H662.0V318.83L663.3 318.51L664.6 319.14L665.9 318.48L667.2 317.80L668.5 318.44L669.8 317.66L669.8 317.64H671.1V313.69L672.0 312.43H673.7V304.19H674.1V302.35H675.0V305.54H676.3V308.78H677.3V312.47H678.9V306.39H679.4V304.26H681.5V309.74H682.6V314.12L684.1 314.34L685.4 314.97L686.7 315.00L688.0 316.06L689.0 316.36H690.6V318.37L691.9 319.03L693.2 320.01H694.5V321.79L695.5 322.91L697.1 323.91L698.4 324.47L699.7 325.26L700.0 325.98L701.0 325.70L702.3 325.05L703.6 324.40L704.9 324.66L706.2 324.42L707.5 324.27L708.8 324.06L710.1 323.91L711.4 323.11L712.7 323.70L714.0 323.50L715.3 323.27L716.6 322.96L716.7 323.07L717.9 322.45L719.2 322.85L720.5 323.00L721.8 322.66H723.1V324.43H724.4V322.98L725.7 322.60L727.0 322.35L728.3 322.42L729.6 322.61L730.9 322.17L732.2 322.42L733.5 322.26L734.8 322.34L736.1 322.49L737.4 322.44L738.7 322.21L740.0 323.51L741.3 322.31L742.6 321.83L743.9 322.05L745.2 321.64L746.5 322.26L747.8 321.90L748.5 321.76H750.4V320.28L751.7 319.65L753.0 318.54H754.3V317.03L755.6 317.00H756.9V315.60L757.9 314.84L759.5 315.71L760.8 316.39L762.1 317.02L763.4 318.30L764.7 319.08L766.0 319.83L767.2 320.74L768.6 321.41L769.9 321.65L771.2 322.43L772.5 323.47L773.8 323.38H775.1V324.97L776.4 324.84H777.7V326.32L779.0 326.33L780.3 326.38L781.6 327.56L782.1 327.69L784.2 328.70L785.5 329.54L786.8 330.25L788.1 330.04H789.4V331.86L790.7 332.28L792.0 333.08L793.3 333.98L794.6 334.49L795.9 334.86L797.1 335.94H798.5V333.25H799.8V331.07H801.1V328.47H802.4V326.29H803.6V324.10H805.0V325.73L806.3 326.03H807.6V327.62L808.9 327.86H810.2V329.49L811.5 330.37H812.8V331.76L813.9 332.39L815.4 331.59L816.7 330.56H818.0V328.37L819.3 327.50H820.6V325.82L821.9 324.59L823.2 323.63L824.5 322.68L825.1 321.93H827.1V319.54L828.4 318.42H829.7V316.30H831.0V314.89L832.3 313.64H833.6V311.68L834.9 311.08H836.2V309.19L836.4 308.97L837.5 308.64L838.8 307.58L840.1 307.37H841.4V304.29H842.7V306.23L843.2 306.07H843.9V325.51L845.3 325.90L846.6 326.77L847.9 326.88L849.2 326.92L850.5 328.07L851.8 328.37L853.1 328.68L853.2 328.95L854.4 328.20L855.7 327.98L857.0 327.87L858.3 327.50L859.6 326.66L860.7 326.53L862.2 326.18L863.5 326.04L864.8 325.51L866.1 324.69L867.4 324.89L868.7 325.13L870.0 324.18L871.0 323.88H872.6V327.59H873.9V329.87H875.2V332.20H876.5V335.07H877.5V337.05H879.1V338.49H880.4V340.04L881.7 341.05L883.0 342.36H884.3V343.84H885.6V345.46H886.9V346.87L888.2 348.06H889.5V349.89L889.9 350.05L890.8 351.27H892.1V353.40H893.4V355.32H894.7V356.92H896.0V358.38H897.3V360.60L897.4 360.60H898.6V362.91L899.9 362.04L901.2 362.96L902.5 363.79L903.8 363.99L904.9 365.32L906.4 365.75L907.7 366.77L909.0 366.70L910.3 366.93L911.6 367.86L912.9 368.12L914.2 368.82L915.5 368.92L916.1 369.21H918.1V366.39H919.4V368.22L920.7 368.19L922.0 367.39L923.3 367.46L924.6 367.38L925.9 366.47L927.2 366.34L927.3 366.31L928.5 365.89L929.8 365.63L931.1 365.45L932.4 365.13L933.7 364.10L935.0 364.25L936.3 363.30L937.6 362.65L938.5 362.75H940.2V360.50L941.5 360.27H942.8V358.24H944.1V355.77H945.4V358.17H946.7V355.25L947.9 354.36H949.3V356.44H950.6V352.75L951.9 352.64L953.2 352.00L954.5 351.48L955.8 352.03H957.1V350.23L957.2 349.09L958.4 348.86H959.7V347.29L961.0 346.18H962.3V344.73L963.6 344.79H964.9V342.96L966.2 342.34H967.5V340.94L968.8 341.09H970.1V338.32L970.3 338.32L971.4 337.78L972.7 339.05L974.0 338.07L975.3 338.25L976.6 337.19H977.9V338.65L979.2 339.52L980.5 339.30H981.8V337.37H983.1V338.96L984.4 337.66L985.7 336.88L987.0 337.20H988.3V339.31L989.6 337.98L990.8 337.89L992.2 338.12L993.5 337.70L994.8 336.72L996.1 337.05L997.4 335.85L998.7 336.94L1000.0 336.11L1001.3 334.91L1002.6 334.91L1003.9 335.04H1005.2V333.65L1005.8 333.67L1007.8 332.71L1009.1 332.03H1010.4V329.92L1011.7 330.11L1013.0 329.86L1014.3 330.51H1015.6V332.79H1016.9V328.47L1018.2 328.53H1019.5V327.12L1020.8 327.63L1022.1 327.33L1023.4 327.90H1024.7V325.05H1026.0V326.75L1027.3 325.98L1028.2 325.27L1029.9 324.12L1031.2 324.50L1032.5 325.71L1033.8 326.83H1035.1V329.42H1036.4V325.54H1037.7V327.02H1039.0V325.52H1040.3V332.47H1041.6V330.99H1042.9V326.64H1044.2V328.93H1045.0V327.30" fill="none" stroke="#c80000" stroke-width="1.05"/>
<path d="M155.0 397.05L156.3 397.39H157.6V395.93L158.9 397.30L160.2 397.36H161.5V400.09H162.8V397.63L164.1 397.94L165.4 398.26L166.7 397.20L168.0 397.47L169.3 398.08L170.6 398.53L171.9 397.74L173.2 398.39L174.5 397.79L175.8 398.62L177.1 398.61L178.4 399.11L179.7 399.70L181.0 398.61L182.3 399.39L183.6 398.39L184.7 399.42L186.2 400.69H187.5V399.16L188.8 400.03L190.1 398.86H191.4V401.17L192.7 402.45H194.0V401.03H195.3V404.23L196.6 402.93L197.9 402.03L199.2 402.88L200.5 402.65L201.8 403.11L203.1 403.70L204.4 404.48L205.7 404.43L206.0 404.37H207.0V407.63H208.3V412.69H209.6V416.74H210.9V423.36L211.4 422.19H213.5V420.79H214.8V419.33L216.1 419.43L217.4 418.14L218.0 417.62H220.0V425.39H221.3V430.48H222.0V433.68H223.9V417.78H224.5V412.44H225.3V390.06H226.5V378.66H226.9V374.35L227.8 374.66L229.1 373.76L230.1 374.27H231.2V349.95H231.7V341.22L231.7 341.13L233.0 341.41L234.3 342.06L234.9 341.95H236.5V351.29H238.1V360.48H238.6V387.62H239.2V360.06H239.7V379.92H240.8V377.68H242.1V374.23H243.0V372.24L244.7 372.30L246.0 372.36L246.2 372.32H247.3V381.71H247.8V385.04L249.9 384.64L251.0 384.38H252.5V376.47H253.8V369.52H254.2V367.08H255.1V368.91H256.4V371.94L257.4 373.20H259.0V379.39H260.3V383.90L260.6 385.19H261.6V375.82H262.2V369.98L264.2 370.60L265.4 371.30H266.8V377.79L267.0 378.08L268.1 378.59L269.4 379.06H270.7V380.76L271.8 381.17L273.3 380.63L274.6 380.15L275.9 379.82L277.2 379.91L278.2 379.32L279.8 378.86L281.1 378.14L282.4 377.77L283.4 377.56L285.0 376.89L286.3 375.72L287.6 375.40L288.9 374.47L290.2 374.28L291.5 373.25L292.8 372.51L294.1 372.34L295.4 371.29L296.7 370.83L298.0 370.34L299.3 369.33L299.5 369.35L300.6 368.93L301.9 368.68L303.2 367.48L304.5 366.79L305.8 365.86L307.1 365.12L308.4 364.82L309.7 363.46L311.0 362.75L312.3 362.63L313.6 361.27L314.9 360.41L316.2 360.17L317.5 359.59L318.8 359.07L320.1 358.47H321.4V356.49L322.7 356.34L323.5 355.91L325.3 355.48L326.6 354.72L327.9 354.56L329.2 354.21L330.5 353.77L331.8 353.06L333.1 352.96L334.4 352.23L335.7 351.82L337.0 351.57L338.3 351.46L339.6 350.25L340.9 350.39L342.2 350.38L343.5 349.62L344.8 349.01L346.1 348.82L347.4 348.78L348.7 347.87L350.0 347.44L350.0 347.57L351.3 347.19L352.6 346.82L353.9 347.01L355.2 346.30L356.5 346.21L357.8 346.43L359.1 345.85L360.4 345.92L361.7 344.82L363.0 344.65L364.3 344.61L365.6 344.55L366.9 343.81L368.2 344.17L369.5 343.71L370.8 343.47L372.1 343.39L373.4 343.06L374.7 342.55L376.0 342.58L376.8 342.40L378.6 342.39L379.9 341.54L381.2 341.25L382.5 340.79L383.8 340.63L385.1 340.34L386.4 339.89L387.7 339.29L389.0 339.55L390.3 338.88L391.6 338.01L392.9 337.55L394.2 337.52L395.5 337.40L395.5 337.36H396.8V335.26H398.1V333.67H399.4V331.98H400.7V329.73L400.9 329.40H402.0V326.90H403.3V323.90H404.6V320.31H405.9V316.86L406.2 315.92H407.2V310.83H408.5V304.97H409.8V298.93H411.1V292.41H412.4V285.91H413.4V281.30H415.0V273.61H416.3V267.28H417.6V260.71L418.0 259.42H418.9V252.99H420.2V244.57H421.5V235.13H422.8V226.39H423.0V224.95H424.1V219.38H425.4V207.86H426.7V197.98H427.4V193.00H429.3V186.42L430.6 185.75H431.9V178.28L432.0 178.11H433.2V175.44H434.5V172.97H435.8V166.37H436.7V168.08L438.4 167.42H439.7V165.56L441.0 165.31L442.3 164.16L443.6 162.95L444.9 162.91L444.9 163.32H446.2V171.69H447.5V179.24H448.4V185.66H450.1V199.83H451.4V209.37H452.0V214.81H454.0V221.64H455.3V225.85H456.0V228.25H457.9V221.97H459.2V217.23H460.0V214.69H461.8V210.00H463.1V207.10H464.4V203.19H465.7V200.08H467.0V196.38L467.3 195.68H468.3V203.80H469.6V214.41H470.6V222.22H472.2V235.67H473.5V246.64H474.0V250.34H476.1V263.79H477.4V271.64H478.5V278.21H480.0V291.14H481.0V300.00H482.6V306.15H483.9V311.45L484.0 311.47H485.2V314.28H486.5V317.12H487.8V319.14H489.1V320.83H490.4V324.61H491.7V327.07H493.0V330.29L493.4 330.61L494.3 331.57H495.6V333.45L496.9 334.73H498.2V336.16H499.5V338.49L500.8 339.83H502.1V341.93L502.7 342.21L504.7 342.61L506.0 342.70L507.3 342.98L508.6 342.91L509.9 343.28L511.2 343.05L512.5 343.23L513.8 343.56L515.1 343.97L516.4 344.33L516.7 344.37L517.7 344.60L519.0 344.80H520.3V343.22L521.6 344.16L522.9 343.83L524.2 343.23L525.5 343.26L526.8 342.48L528.1 342.80L529.4 343.14L530.7 342.18L532.0 342.17L533.0 342.20L534.6 342.83L535.9 342.99L537.2 343.17L538.5 343.86L539.8 343.85L541.1 345.05L542.4 345.07L543.7 345.09L545.0 345.17L546.3 345.59H547.6V347.98H548.9V346.35L549.4 346.60L551.5 346.70L552.8 347.42L554.1 347.68L555.4 347.71L556.7 348.65L558.0 348.72L559.3 348.98L560.6 349.03L561.9 349.29L563.2 349.81L564.5 349.69L565.8 350.51L567.1 350.39L568.1 350.94L569.7 351.41L571.0 351.37L572.3 351.48L573.6 351.68L574.9 352.15L576.2 352.02L577.5 352.54L578.8 353.06L580.1 352.47L581.4 353.00L582.7 353.53L584.0 353.35L585.3 353.60L586.6 353.77L587.9 354.58L589.2 354.38L589.2 354.55H590.5V342.18H591.0V337.50H592.6V187.43H594.4V173.45H595.0V168.70H597.0V155.99H598.0V150.22H599.6V140.27H600.5V134.28H602.2V121.84H603.0V116.28H604.8V121.89H606.0V124.98H607.4V129.90H608.6V133.76H610.0V150.10L610.0 149.95H611.3V168.86H612.0V179.39H613.5V281.27H615.0V333.13L616.5 333.60L617.8 333.57L618.4 333.44L620.4 334.07L621.7 335.22L623.0 335.90L624.2 336.19H625.6V339.74H626.9V342.73H628.2V346.35H629.5V349.52H630.8V352.36H631.2V353.87L632.1 354.34L633.4 355.15L634.7 356.35L636.0 357.01L637.3 357.93L638.2 358.22L639.9 358.69L641.2 358.14L642.5 358.61L643.8 358.03L645.1 358.56L646.4 358.26L647.7 358.18L649.0 358.83L650.3 358.74L651.6 358.88L652.9 358.80L654.2 358.91L655.5 358.87L656.8 358.88L657.0 358.95L658.1 359.30L659.4 358.03L660.7 357.56L662.0 357.38L663.3 357.12L664.6 357.12L665.9 356.95L667.2 356.62L668.5 355.90L669.8 355.83L671.0 355.47H672.4V348.44H673.7V341.80L673.7 341.61H675.0V346.65H676.0V350.07H677.6V343.67L678.0 342.51L678.9 341.78H680.2V345.27H681.2V346.96H682.8V348.83L684.1 350.00L685.4 351.23L686.7 352.56H688.0V354.08L688.7 354.79L690.6 355.75H691.9V357.16L693.2 358.16L694.5 358.82L695.8 359.68L697.1 360.96L698.0 361.55L699.7 361.55L701.0 361.24L702.3 360.85L703.6 361.00L704.9 360.60L706.2 360.47L707.5 360.85L708.8 360.13L710.1 359.47L711.4 360.12L712.7 359.57L714.0 359.45L715.3 359.98L716.6 359.36L716.7 359.44L717.9 358.93L719.2 358.97L720.5 358.97L721.8 359.36L723.1 358.91L724.4 358.50L725.7 359.20L727.0 358.78L728.3 358.90L729.6 359.04L730.9 359.38L732.2 360.56H733.5V359.11L734.8 358.21L736.1 358.59L737.4 358.58L738.7 357.81L740.0 358.10H741.3V360.03H742.6V358.41L743.9 358.08L744.8 358.15L746.5 359.38L747.8 358.03L749.1 357.76L750.4 357.63L751.7 357.47L753.0 357.61L754.3 357.09L755.6 357.16L756.9 357.06L758.2 357.04L759.5 357.10L760.8 356.79L762.1 357.90L763.4 356.73L763.5 356.54L764.7 356.92L766.0 356.93L767.3 356.36L768.6 356.89L769.9 357.28L771.2 357.41L772.5 357.27L773.8 357.46L775.1 357.24L776.4 357.78L777.7 357.21L779.0 357.85L780.3 358.31L781.6 357.82L782.1 358.30H784.2V360.08L785.5 360.48L786.8 361.00L788.1 361.82L789.4 362.43L789.6 362.94L790.7 363.54H792.0V365.03L793.3 365.79H794.6V367.37L795.9 367.96H797.2V369.43L798.5 370.39L799.0 371.09H801.1V366.11H802.4V363.20H803.7V360.59H804.6V358.10L806.3 358.92L807.6 360.07L808.9 360.61H810.2V362.18L811.5 362.56L812.8 363.40L813.9 363.98H815.4V362.19L816.7 362.63L818.0 361.42L819.3 360.07L819.5 360.41L820.6 359.13L821.9 357.86H823.2V355.98H824.5V354.37L825.1 353.53H827.1V351.42L828.4 350.29L828.9 350.01H831.0V346.31H832.3V344.64H833.6V342.76H834.9V339.85H836.2V338.39L836.4 338.11L837.5 338.06L838.8 338.41L840.1 337.41L841.4 338.22L842.7 337.75L843.2 337.71H843.9V354.66H845.3V356.28L846.6 357.52H847.9V359.07L849.2 360.05L849.4 360.44L850.5 360.52L851.8 360.82L853.1 360.35L854.4 360.69L855.7 360.68L857.0 361.01L858.3 361.23L859.6 360.65L860.7 360.61L862.2 361.50L863.5 361.71L864.8 362.80L866.1 363.28L867.4 363.41L868.7 363.75L870.0 364.49L870.0 363.92H871.3V366.02H872.6V368.22H873.9V369.61L875.2 369.74H875.6V372.32H876.5V373.77L877.8 374.58H879.1V376.52H880.4V378.23L881.7 379.13H883.0V381.04H884.3V382.81L885.6 384.18L886.2 385.11H888.2V389.13H889.5V391.46H890.8V394.30H892.1V396.77H893.4V399.70H894.7V402.96H896.0V405.59H897.3V408.36L897.4 408.54L898.6 409.35H899.9V410.88H901.2V412.40H902.5V414.19L903.8 415.15L905.1 416.38H906.4V417.85L907.7 418.86L908.6 419.89L910.3 421.25L911.6 421.80L912.9 422.86L914.2 423.21L915.5 424.10L916.8 425.39L918.1 426.04L919.4 427.07L920.7 427.42L921.7 428.25L923.3 428.93L924.6 429.40L925.9 429.54L927.2 430.05L928.5 430.35L929.8 430.74L931.1 431.16L932.4 431.78L933.7 431.46L935.0 432.39L936.3 432.38L936.6 432.93L937.6 432.17L938.9 431.56H940.2V428.50L941.5 429.79H942.8V428.39L944.1 428.93H945.4V426.76L946.0 426.82H948.0V429.17H949.3V426.12L950.6 425.27L951.6 424.93H953.0V419.79H954.5V430.37H955.0V432.18H957.0V416.97H958.4V426.08H959.0V431.04H961.0V427.92H962.3V425.78H963.6V424.37H964.7V422.24L966.2 421.53L967.5 420.16H968.8V421.56L970.1 422.69H971.4V419.17L972.7 419.21L974.0 419.36L975.3 418.45L976.6 417.13L977.9 417.28H979.2V413.89H979.6V416.64L980.5 416.31L981.8 417.17L983.1 415.80L984.4 416.88L985.7 416.17L987.0 416.98L988.3 416.50L989.6 417.66L990.8 417.07L992.2 418.41H993.5V413.37H994.8V422.01H996.1V417.18L997.4 415.87H998.7V419.24L1000.0 419.39L1001.3 418.96L1002.6 419.43L1003.9 418.78H1005.2V415.38H1006.5V418.56H1007.8V421.51L1009.1 421.60H1009.5V420.19L1010.4 419.20L1011.7 418.77L1013.0 419.76L1014.3 419.15H1015.6V417.45H1016.9V418.88L1018.2 418.69L1019.5 418.02L1020.8 417.50L1022.1 416.99L1022.6 416.57L1024.7 416.20L1026.0 415.81H1027.3V417.92H1028.6V414.63H1029.9V416.56L1031.2 417.43H1032.5V419.15H1033.8V415.91H1035.1V418.00L1036.4 417.87H1037.7V414.08H1039.0V418.57H1040.3V414.10H1041.6V417.45L1042.9 418.43H1044.2V416.72H1045.0V415.15" fill="none" stroke="#005f14" stroke-width="1.05"/>
<path d="M155.0 451.48L156.3 451.57L157.6 452.46L158.9 451.30H160.2V452.88L161.5 452.72L162.8 452.16L164.1 452.51L165.4 451.98L166.7 453.17L168.0 453.64L169.3 453.45L170.6 454.56H171.9V452.96L173.2 454.27L174.5 453.90L175.8 454.53L177.1 455.53L178.4 455.25L179.7 456.31L181.0 455.49L182.3 455.54L183.6 455.97L184.9 455.50L186.2 456.06H187.5V454.14H188.8V457.51L190.1 456.63L191.4 456.90L192.7 456.72L194.0 457.04L195.3 458.01L196.6 458.28L197.9 458.65L199.2 458.53L200.5 459.50L201.8 458.13L203.1 459.32L203.4 458.88H204.4V461.44H205.7V464.78H207.0V467.32H208.3V470.15L208.7 471.28L209.6 472.16H210.9V474.34H212.2V479.19H212.7V476.69H214.8V474.80H216.1V473.21H217.4V471.81L218.0 470.60H220.0V477.52H221.3V480.94H222.0V483.64L223.9 483.78L224.4 483.66H226.0V437.42H227.8V421.83L227.9 421.22H229.0V415.00H230.4V427.61L230.5 428.75H231.7V405.60H232.0V400.00H233.0V403.59H234.3V408.21L234.5 408.73H235.6V415.97H236.0V418.72H236.9V415.35H238.0V411.91H238.3V436.87H239.5V431.34L239.5 431.28H240.8V413.71L240.8 413.82H241.5V431.23H243.0V428.12H244.7V422.41L245.0 421.27L246.0 420.20L246.5 420.06H248.0V425.03H249.5V435.00L251.0 434.36H252.5V432.10L253.0 431.12H254.5V414.57H256.0V421.67H257.7V433.99L257.8 434.92H259.0V426.72H259.5V423.13L261.6 422.17L262.0 421.77L262.9 420.40H264.2V417.72L264.5 416.70H265.5V420.25H266.0V421.71L268.1 421.38L269.4 421.48L270.0 421.25H272.0V426.14L272.0 426.19H273.3V424.64H274.6V422.49L275.0 421.93L275.9 420.83L277.2 420.63L278.5 419.73L279.8 418.60L280.0 418.86H281.1V417.32H282.4V415.91H283.7V413.87H285.0V412.46H286.3V410.83H287.6V408.99H288.8V407.51L290.2 406.25L291.5 404.92H292.8V403.37L294.1 402.58L295.4 401.23L296.7 400.11H298.0V398.59L299.3 398.00H300.6V396.61L301.9 395.51L303.2 394.42H304.5V392.96H305.8V391.38H307.1V389.89L308.4 389.32H309.7V387.86L310.0 387.57L311.0 386.89H312.3V385.22H313.6V383.75L314.9 382.85H316.2V381.35L317.5 379.98L318.8 379.05H320.1V377.61L321.4 376.55H322.7V374.86L323.5 374.37L325.3 373.76L326.6 373.42L327.9 372.87L329.2 372.82L330.5 371.85L331.8 371.97L333.1 371.75L334.4 371.06L335.7 370.69L337.0 370.06L338.3 369.94L339.6 369.60L340.9 369.13L342.0 368.78L343.5 368.90L344.8 368.81L346.1 368.25L347.4 368.44L348.7 368.72L350.0 369.33H351.3V367.52L352.6 368.74L352.8 368.73L353.9 369.07L355.2 369.87L356.5 370.15L357.8 370.77L359.1 371.04L360.4 371.68L361.7 372.05L363.0 372.63L364.3 373.27L365.6 374.20L366.9 374.50L368.2 375.21L369.5 375.32L370.8 376.04L371.5 376.20L373.4 377.21L374.7 377.92L376.0 378.22L377.3 379.36L378.6 379.72L379.9 380.87L381.2 381.26L382.5 381.71L383.8 382.51L385.1 383.28L386.4 384.60L387.7 384.57L389.0 385.50L390.2 386.26L391.6 385.54L392.9 384.96L394.2 384.56L395.5 383.58L396.8 383.62L398.1 382.92L399.4 382.00L400.7 381.70L400.9 381.26H402.0V377.48H403.3V372.97H404.6V368.80H405.9V364.83H407.2V360.45L407.5 359.50H408.5V353.54H409.8V345.23H411.0V337.51H412.4V330.51H413.7V325.85H415.0V319.61H416.3V314.58H416.8V312.54H418.7V301.92H420.2V283.02H421.5V266.60H422.4V254.79H424.1V246.78H425.4V239.57H426.7V232.70H428.0V225.78L428.0 226.00H429.3V221.39H430.6V216.87H431.9V213.29H433.2V209.01H434.0V206.24H435.8V204.18L437.1 203.23H438.4V201.82L439.7 200.58L440.2 200.03H442.3V204.11H443.6V207.43H444.9V209.77H446.0V212.53H447.5V216.29H448.8V219.64H450.1V223.60H451.4V226.60H452.0V228.13H454.0V229.82L455.3 231.18L456.6 230.81H457.8V232.54H459.2V225.85H460.5V223.95H461.8V219.40L462.0 218.74H463.1V216.15H464.4V212.73H465.7V209.25H467.0V206.25L467.0 206.40H468.3V215.43H469.6V223.68H470.6V231.24H472.2V252.29H473.5V274.14H474.0V281.16H476.1V328.47H476.5V337.54H477.4V351.78H478.7V371.70H479.3V381.27H481.3V386.29H482.6V388.37H483.9V391.44H485.2V394.07H486.5V397.14H487.8V400.20H488.7V402.54L490.4 403.72L491.7 404.32H493.0V405.84L494.3 406.85L495.6 407.28H496.9V409.50L498.2 410.36L499.5 411.30L500.4 412.34L502.1 412.85L503.4 412.41L504.7 413.53L506.0 414.42L507.3 414.19L508.6 414.68L509.9 414.34L511.2 414.72L512.5 415.10L513.8 416.14L515.1 415.22L516.4 415.85L516.7 416.70L517.7 415.81L519.0 415.69L520.3 415.74L521.6 415.26L522.9 415.13L524.2 414.89L525.5 414.85L526.8 414.08L528.1 413.72L529.4 413.40L530.7 413.96L531.9 413.10L533.3 413.74L534.6 413.94L535.9 414.23L537.2 414.93L538.5 414.89L539.8 414.86L541.1 415.21H542.4V416.73L543.7 416.11L545.0 416.59L546.3 417.10L547.1 417.47L548.9 417.63L550.2 418.29L551.5 418.86L552.8 418.80L554.1 419.58L555.4 420.28L556.7 420.44L558.0 420.81L559.3 421.33L560.6 421.58L561.9 421.88L563.2 422.26L564.5 423.05L565.8 422.75L567.1 423.28L568.1 424.00L569.7 424.33L571.0 424.06L572.3 423.84L573.6 423.67L574.9 424.34L576.2 424.27L577.5 424.36L578.8 424.42L580.1 424.06L581.4 424.18L582.7 424.41L584.0 424.43L585.3 424.07L586.6 424.22L587.9 424.56L589.2 424.80L589.2 424.88H590.5V415.93H591.0V412.47H593.1V287.87H594.4V210.62H595.0V174.92H597.0V160.31H598.0V154.38H599.6V161.38H600.5V165.61H602.2V162.35L603.0 161.21H604.8V170.83L605.0 171.75H606.1V177.15H607.0V181.92H608.7V208.11H609.0V212.34H610.0V247.08H611.0V281.36H612.6V346.36H613.0V362.54H613.9V378.84H615.0V398.78L616.5 399.33L617.8 400.46L618.5 400.43L620.4 400.60L621.7 401.56L622.8 401.82H624.3V407.46H625.6V411.92H626.9V417.23L627.1 417.57H628.2V419.97H629.5V421.66L630.8 421.47H631.4V424.26L633.4 424.77L634.7 423.95L635.6 423.69H637.3V421.58H638.6V419.69H639.9V417.98H641.2V416.39L642.1 415.15H643.8V413.22L645.1 412.38L646.4 411.14H647.7V409.59L648.5 409.20L650.3 410.12L651.6 410.30L652.7 411.27H654.2V416.60H655.5V421.46L655.9 422.43H656.8V419.80H658.1V416.27H659.4V412.37H660.7V408.77H661.3V407.00H663.3V402.66H664.5V399.10H665.9V401.19H667.2V402.95L668.5 404.09H669.8V405.92L669.8 405.55H671.1V403.82H672.4V401.96H673.7V400.29L674.1 399.65H675.0V402.64H676.3V406.79H677.6V410.13H678.4V412.48L680.2 412.57L681.5 413.52L682.8 414.38L684.1 414.63L684.8 415.15L686.7 416.42L688.0 417.61L689.3 418.09H690.6V419.60L691.9 420.83L693.2 421.59L694.5 422.97L695.5 423.12L697.1 424.21L698.4 424.28L699.7 425.61L701.0 426.17L701.9 426.48L703.6 426.53L704.9 425.67L706.2 425.71L707.5 425.65L708.8 425.06L710.1 424.85L711.4 425.18L712.7 424.59L714.0 424.18L715.3 424.11L716.6 423.87L717.9 423.60L719.2 423.69L720.5 423.08L721.8 422.74L723.1 422.95L724.4 422.70L725.7 422.84L726.1 422.32L727.0 422.16L728.3 422.44L729.6 422.09L730.9 421.67L732.2 421.43L733.5 421.69L734.8 421.33L736.1 420.94L737.4 420.89L738.7 420.74L740.0 420.95L741.3 419.81L742.6 420.20L743.9 420.54L745.2 419.56L746.5 419.79L747.8 419.94L749.1 419.17L750.4 419.23L751.7 418.97L753.0 419.10L754.1 418.88L755.6 418.34L756.9 418.41L758.2 418.21L759.5 418.22L760.8 417.55L762.1 417.37L763.4 417.01L764.7 417.26L766.0 417.02L767.3 416.22L768.6 415.60L769.9 416.50L771.2 415.19L772.5 414.98L772.8 415.38L773.8 415.52L775.1 414.76L776.4 413.84L777.7 413.56L779.0 412.77L780.3 412.58L781.6 411.61L782.9 411.63L784.0 410.79L785.5 411.97L786.8 412.86H788.1V414.87L789.4 415.91L790.7 416.71L791.5 417.67H793.3V419.83H794.6V421.50H795.9V423.17L797.1 424.37H798.5V422.39H799.8V420.07H801.1V418.64H802.4V415.83L802.7 415.37H803.7V412.63H805.0V408.44L805.5 407.28L807.6 408.07H808.9V411.79L810.2 412.87H811.5V414.25L812.0 415.53H814.1V413.71L815.4 413.23L816.7 411.93L818.0 410.58L819.3 409.79L819.5 409.46H820.6V407.43H821.9V403.62L823.2 403.42H824.5V400.76L825.1 400.31H827.1V396.20H828.4V393.63H829.7V390.22H830.7V388.60H832.3V384.11H833.6V380.68H834.9V377.64H836.2V373.91L836.4 373.42L837.5 372.47L838.8 371.20H840.1V369.30L841.4 367.95L842.7 366.97L843.2 366.42H843.9V390.81H845.3V393.64H846.6V395.76H847.9V398.39H849.2V400.91H850.5V403.48H851.3V404.99L853.1 405.52L854.4 406.14L855.7 406.36L857.0 407.28L858.3 407.72L859.6 407.90L860.7 408.60L862.2 409.39L863.5 410.15L864.8 410.92L866.1 411.96L867.4 412.71L868.1 413.02H870.0V415.01L871.3 416.38L872.6 417.71L873.9 418.68L875.2 419.66L875.6 420.02L876.5 421.21H877.8V422.76H879.1V424.38L880.4 425.03L881.7 426.17L882.4 427.07H884.3V430.84H885.6V433.35H886.9V435.40H888.2V437.70H889.5V439.92L889.9 441.20L890.8 441.88H892.1V444.08H893.4V445.50L894.7 446.63H896.0V448.47H897.3V450.68L898.6 452.03H899.9V453.59H901.1V455.23L902.5 456.31L903.8 457.44L905.1 458.53L906.4 459.61L906.7 459.91H907.7V455.43H909.0V450.10L909.0 450.13L910.3 449.84L911.6 450.06L912.3 449.79H914.0V456.26L915.5 457.31L916.8 457.83L918.1 458.06L919.4 458.93L920.7 459.51L921.7 459.83H923.3V464.94H924.6V469.53H925.4V471.29L927.2 472.03L928.5 472.92L929.8 473.13H931.1V471.42H932.4V474.26L933.7 474.53L934.8 474.52L936.3 474.56L937.6 474.73L938.9 474.93L940.2 474.91L941.5 474.57L942.8 474.07L944.1 473.87L945.4 473.09L946.0 473.80H948.0V470.09L949.3 469.95H950.6V466.13L951.0 465.65H951.9V471.07H953.2V472.82L953.5 473.58H954.5V469.78H955.8V465.54H956.0V463.91H957.1V469.46H958.0V473.15L959.7 472.76L961.0 471.88L962.3 471.47H963.6V468.66L964.7 468.17H966.2V465.88L967.5 466.04L968.8 464.72H970.1V462.99L971.4 463.09H972.7V461.05H974.0V458.68H975.3V457.19L976.6 457.54L977.8 456.52H979.2V458.24H980.5V455.48L981.8 454.96L983.1 454.89L984.4 456.13L985.7 455.84H987.0V453.90L987.1 455.15L988.3 455.86L989.6 455.88H990.9V457.44L992.2 457.20H993.5V459.38L994.8 458.97L996.1 460.04H997.4V457.47H998.3V460.88H1000.0V458.44H1001.3V460.40L1002.6 460.77L1003.9 460.08H1005.2V461.78H1006.5V459.96L1007.8 460.64H1009.1V462.34L1009.5 461.32L1010.4 460.73H1011.7V459.23H1013.0V456.16H1014.3V464.79H1015.6V460.00L1016.9 459.22L1018.2 458.97H1019.5V461.29H1020.8V459.75H1022.1V455.16H1023.4V458.09L1024.7 457.70H1026.0V462.20H1027.3V457.30H1028.2V458.95H1029.9V456.86L1031.2 458.19H1032.5V460.84H1033.8V452.04H1035.1V460.63H1036.4V457.48L1037.7 456.53L1039.0 455.55H1040.3V457.10L1041.6 456.19H1042.9V459.04H1044.2V457.52L1045.0 457.58" fill="none" stroke="#0000cd" stroke-width="1.05"/>
<path d="M155.0 494.41L156.3 494.53L157.6 494.85L158.9 495.87L160.2 495.96L161.5 496.02L162.8 496.10L164.1 496.59L165.4 495.43L166.7 494.16H168.0V496.75L169.3 497.95L170.6 497.86H171.9V499.90H173.2V497.42H174.5V499.66L175.8 498.59L177.1 498.66L178.4 498.40L179.7 499.15L181.0 498.00H182.3V500.16L183.6 499.91L184.9 499.84L186.2 500.86L187.5 500.62L188.8 500.81L190.1 500.49L191.4 501.20L192.7 500.58L194.0 500.83L195.3 501.77L196.6 501.57L197.9 501.39L199.2 502.26L200.5 501.57H201.8V503.70L203.0 502.86H204.4V504.99H205.7V508.63L207.0 509.21H208.3V511.08H208.7V513.01H209.6V514.73H210.9V518.13H212.2V520.20L212.7 520.98H214.8V515.80L216.1 516.98L217.4 515.79L218.0 514.72H220.0V522.72H221.3V528.17H222.0V531.54L223.9 531.14L224.4 531.27H226.0V490.65H227.8V469.59L227.9 468.77H229.1V462.37H229.6V459.28H231.7V442.03H232.0V440.07L233.0 440.17L234.3 440.27L235.0 439.76H236.5V450.36H238.0V454.92H238.3V485.02H239.5V474.95L239.5 475.04H240.8V455.07L240.8 455.01H241.5V476.30H243.0V471.88H244.7V465.59L245.0 464.28H246.0V462.88L246.5 463.07H248.0V468.72H249.5V479.32L251.0 478.11H252.5V476.61L253.0 476.09H254.5V464.51H256.0V468.79H257.7V481.08L257.8 481.88H259.0V473.35H259.5V469.45H261.6V467.90L262.0 467.58L262.9 466.34L264.2 466.65L264.5 466.23H265.5V469.79H266.0V471.79H268.1V473.21L269.4 473.52L270.0 474.40H272.0V476.81L272.0 476.94H273.3V474.75L274.6 473.73L275.0 472.56L275.9 472.01L277.2 471.54L278.5 470.37H279.8V468.66L280.0 468.72L281.1 468.76L282.4 467.90L283.7 467.23L285.0 466.66L286.3 466.24L287.6 466.15L288.9 465.78L290.2 464.94L291.4 464.53L292.8 463.50L294.1 462.40L295.4 462.22L296.7 461.27L298.0 460.76L299.3 460.27L300.6 459.20L301.9 457.89L303.2 458.46H304.5V456.00L305.8 454.96L307.1 455.26L308.4 453.98L309.7 452.66L310.0 452.99L311.0 451.90L312.3 451.91L313.6 451.48L314.9 451.94H316.2V450.25L317.5 450.09L318.8 449.19L320.1 449.14L321.4 447.79L322.7 447.65L324.0 447.73L325.3 446.43L326.6 445.91L327.9 445.68L329.2 445.02L330.5 444.69L331.8 444.38L333.1 443.73L334.4 443.11L335.7 442.41L336.8 442.13L338.3 441.78L339.6 440.78L340.9 440.42L342.2 439.74L343.5 439.57L344.8 439.13L346.1 438.44L347.4 437.80L348.7 437.41L350.0 437.32L351.3 436.49L352.6 436.40L353.9 435.51L355.2 434.98L356.5 434.93L357.8 433.99L359.1 434.06H360.4V432.62L361.7 432.76L363.0 432.12L363.5 432.08H365.6V430.69L366.9 430.99L368.2 431.96L369.5 431.02L370.8 431.64L372.1 430.98L373.4 430.60L374.7 429.89L376.0 430.62L377.3 430.12L378.6 430.07L379.9 429.08L381.2 428.81L382.5 429.00L383.8 429.06L385.1 428.93L386.4 428.85L387.7 428.05L389.0 427.71L390.2 427.99L391.6 426.99L392.9 426.67L394.2 426.69L395.5 425.40L396.8 425.04L398.1 424.43L399.4 423.77L399.5 423.77H400.7V421.62H402.0V419.05H403.3V417.03L403.5 416.32H404.6V411.86H405.9V407.75H406.2V406.25H407.2V401.24H408.5V394.65H409.8V388.68L410.0 387.49H411.1V380.37H412.4V372.24H413.7V364.68H415.0V356.21L415.0 356.21H416.3V351.46H417.6V345.35H418.9V339.95H420.2V334.31H421.5V328.77H422.4V324.91H424.1V314.56H425.4V306.31H426.7V297.87H428.0V289.99L428.0 290.14H429.3V282.75H430.0V278.75H431.9V271.62H433.2V266.90L433.6 265.67L434.5 264.61H435.8V262.62H437.1V259.31L438.4 258.73H439.7V257.05H441.0V255.47L442.0 254.09H443.6V258.23H444.9V262.20H446.2V265.18H446.7V266.96H448.8V283.32H450.1V292.83H450.5V296.02H451.4V302.46H452.7V311.11H454.0V320.23H454.2V321.71H455.3V318.11H456.6V313.76H457.9V308.78H459.2V301.11H460.5V297.11L461.7 296.76H463.1V294.48L464.4 293.42H465.7V291.85L467.0 290.78L467.3 290.19H468.3V297.73H469.6V307.42H470.9V316.86L471.0 318.21H472.2V323.56H473.5V330.63H474.7V336.31H476.1V346.64H477.4V356.37H478.7V366.19H479.3V369.85H481.3V376.77H482.6V387.07H483.9V393.41H485.2V398.00H486.4V406.34H487.8V409.34H489.1V411.54H490.4V415.08H491.7V417.18H493.0V420.21L493.4 421.05L494.3 421.43H495.6V423.69L496.9 424.71L498.2 425.94H499.5V427.36L500.8 428.38H502.1V429.96L503.4 431.25L504.7 431.76L505.0 432.58L506.0 433.38L507.3 433.39L508.6 434.41L509.9 434.78L511.2 435.60L512.5 435.46L513.8 436.57L515.1 437.11L516.4 437.75L516.7 438.44L517.7 437.63L519.0 437.46L520.3 437.24L521.6 436.70L522.9 437.01L524.2 436.36L525.5 435.93L526.8 436.04L528.1 435.19H529.4V437.02H530.7V435.00L531.9 434.88L533.3 435.21L534.6 435.65L535.9 435.65L537.2 436.01L538.5 436.56L539.8 436.60L541.1 437.07L542.4 437.36L543.7 437.61L545.0 437.83L546.3 438.10L547.1 438.16L548.9 438.82L550.2 439.29H551.5V440.82L552.8 440.53L554.1 441.23L555.4 441.51L556.7 442.08L558.0 442.37L559.3 443.07L560.6 443.30L561.9 443.77L563.2 443.81L564.5 444.87L565.8 445.00L567.1 445.50L568.1 445.90L569.7 446.26L571.0 446.45L572.3 447.08L573.6 446.76L574.9 446.71L576.2 447.45L577.5 447.19L578.8 448.03L580.1 448.70L581.4 449.04L582.7 448.59L584.0 449.26L585.3 449.09L586.6 449.79L587.9 450.35L589.2 450.19L589.2 450.37H590.5V441.11H591.0V437.72H593.1V355.30H594.4V304.44H595.0V281.36H597.0V273.17H598.0V268.80H599.6V274.54H600.5V278.14H602.2V273.73H603.0V275.13H604.8V302.18H606.1V321.33H607.4V340.78H608.0V349.88H610.0V381.10H611.3V401.57H612.0V412.54H613.9V424.69H615.0V431.21L616.5 431.62L617.8 430.71L619.1 431.24L619.5 431.31L620.4 432.07H621.7V433.63H623.0V435.15L624.3 436.13H625.6V437.70L626.5 438.66H628.2V442.48H629.5V446.36H630.8V449.24L631.2 450.14L632.1 448.84L633.4 449.48H634.7V451.66L636.0 452.34L637.3 452.92L638.2 453.14L639.9 453.03L641.2 453.11L642.5 451.88L643.8 452.63L645.1 453.88H646.4V452.02L647.7 452.15L649.0 452.45L650.3 452.15L651.6 452.38L652.9 451.90L654.2 451.76L655.5 451.43L656.8 451.74L658.1 450.90L659.4 449.84L660.7 450.99L662.0 449.77L663.3 451.05L664.6 450.85L665.9 450.65L667.2 450.33L668.5 449.89L668.6 450.15H669.8V445.78H671.1V442.00H672.4V438.35H673.7V434.25L673.7 434.04H675.0V438.18H676.0V440.79H677.6V437.63H678.4V435.78H680.2V439.95H681.2V441.87L682.8 443.17L684.1 443.97L685.4 444.44L686.7 444.97L688.0 445.75L688.7 445.75H690.6V447.43L691.9 447.58H693.2V451.17L694.5 450.37L695.8 451.56L697.1 451.58L698.4 452.59L699.7 453.39L701.0 454.19L701.8 454.94L703.6 455.22L704.9 454.81L706.2 454.71L707.5 454.12L708.8 454.54L710.1 454.95L711.4 454.30L712.7 454.37L714.0 453.68L715.3 454.19L716.6 453.75L717.9 453.67L719.2 453.61L720.5 453.32L721.8 453.46L723.1 453.11L724.4 452.90L725.7 452.59L726.1 452.73L727.0 453.01L728.3 452.95L729.6 452.49L730.9 452.34L732.2 452.10L733.5 452.19L734.8 452.40L736.1 451.96L737.4 451.60L738.7 451.93L740.0 451.72L741.3 450.87L742.6 451.12L743.9 451.47L745.2 451.11L746.5 450.85L747.8 450.86L749.1 450.29L750.4 450.35L750.4 450.44L751.7 449.31L753.0 448.52H754.3V446.82L755.6 445.72L756.9 444.86H757.9V443.40L759.5 444.22L760.8 444.96L762.1 445.69L763.4 446.31L764.7 447.12L766.0 447.24L767.2 448.03L768.6 448.04L769.9 447.50L771.2 448.30L772.5 447.53L773.8 447.49L775.1 447.71L776.4 447.53L777.7 447.49L779.0 447.22L780.3 446.75L781.6 446.97L782.1 446.89L784.2 446.80L785.5 447.37L786.8 447.90L788.1 447.56L789.4 447.79L790.7 447.97L792.0 448.58L793.3 447.97L794.6 448.86L795.9 448.94L797.2 449.06L798.5 449.01L799.0 448.72H801.1V446.15H802.4V443.35H803.6V441.10H805.0V443.47L806.3 444.82H807.6V447.43L808.3 448.12H810.2V452.42H811.5V454.78H812.8V456.76H813.9V458.67L815.4 457.60L816.7 457.07L818.0 456.30L819.3 456.46H819.5V455.01L820.6 454.21H821.9V452.61L823.2 451.53L824.5 450.23L825.8 448.95H827.1V447.55L828.4 446.50L828.9 445.94H831.0V444.32H832.3V442.53L833.6 441.44L834.9 440.21H836.2V438.53L836.4 438.62L837.5 438.64L838.8 438.70L840.1 438.68L841.4 438.17L842.7 438.43L843.2 438.18H843.9V455.09L845.3 456.30L846.6 456.36L847.9 457.01H849.2V459.03L850.5 459.29L851.8 460.35L853.1 460.92L853.2 460.94L854.4 461.06L855.7 461.28L857.0 462.25L858.3 462.31L859.6 462.98L860.9 463.50L862.2 463.80L863.5 464.25L864.4 464.63H866.1V466.45H867.4V467.85L868.7 469.16H870.0V471.03H871.3V472.40L871.9 472.64H873.9V475.97H875.2V477.88H876.5V479.85H877.8V481.78H879.1V484.59L880.0 485.55H881.7V487.15H883.0V489.75H884.3V491.65L885.6 492.90H886.9V494.55H888.0V496.02H889.5V499.08H890.8V501.09H892.1V503.79H893.4V505.68H894.7V508.86H896.0V510.64H897.3V513.28L897.4 513.60H898.6V515.56L899.9 516.91H901.2V518.76H902.5V521.22L903.8 522.46H904.9V524.12L906.4 525.38H907.7V526.87L909.0 528.03L910.3 529.27L911.6 530.26L912.9 531.18H914.2V532.58L915.5 533.82L916.1 534.03L918.1 534.59L919.4 535.17L920.7 536.05L922.0 535.91L923.3 536.43L924.6 536.83L925.4 537.10L927.2 537.92L928.5 537.94L929.8 537.91H931.1V539.50L932.4 538.85H933.7V540.29L934.8 541.15L936.3 540.40L937.6 539.22L938.9 539.41L940.2 539.16L941.5 538.76L942.2 538.37H944.1V535.38L945.4 534.02H946.7V532.54L947.9 531.19L949.3 531.46L950.6 531.09L951.9 530.42L953.2 531.08L953.5 530.11H954.5V526.84H955.8V525.00H957.1V520.19L957.2 520.47H958.4V525.63H959.1V528.80L961.0 527.97L962.3 527.46H963.6V523.26H964.9V525.79L966.2 526.14L967.5 525.30L968.8 524.35L970.1 523.35L971.4 523.36L972.1 522.79H974.0V521.18L975.3 522.28L976.6 521.45H977.9V523.04H979.2V520.96H979.6V519.48L980.5 520.09L981.8 520.04L983.1 519.81L984.4 519.89L985.7 521.12L987.0 520.69H988.3V518.40H989.6V520.57L990.8 519.50L992.2 519.25L993.5 520.61L994.8 519.27H996.1V521.44H997.4V520.01L998.7 520.95L1000.0 520.72L1001.3 521.25L1002.6 521.81H1003.9V519.14H1005.2V520.57L1006.5 520.86L1007.8 521.76L1009.1 521.32L1009.5 520.63L1010.4 519.33L1011.7 519.02L1013.0 519.69L1014.3 520.80L1015.6 520.74L1016.9 522.09H1018.2V517.36H1019.5V521.30H1020.8V518.84H1022.1V523.40H1023.4V519.74L1024.7 519.58H1026.0V521.67H1027.3V520.16L1028.6 520.04L1029.9 520.09H1031.2V518.42L1032.5 518.03H1033.8V522.29H1035.1V524.98H1036.4V519.86L1037.7 520.11L1039.0 519.21L1040.3 519.38L1041.6 518.59H1042.9V520.09L1044.2 519.41L1045.0 519.93" fill="none" stroke="#780000" stroke-width="1.05"/>
<path d="M155.0 543.73L156.3 542.47H157.6V544.35L158.9 544.45L160.2 544.36L161.5 544.30L162.8 544.31L164.1 545.03L165.4 545.45L166.7 545.05L168.0 546.16L169.3 545.49L170.6 546.13L171.9 545.85L173.2 546.10L174.5 546.80L175.8 546.80L177.1 547.25L178.4 547.37L179.7 546.94H181.0V545.21H182.3V547.52L183.6 547.66L184.9 548.00L186.2 547.78H187.5V549.85H188.8V548.32L190.1 547.69L191.4 546.66H192.7V549.05H194.0V547.56H195.3V549.23L196.6 548.60L197.9 548.69L199.2 549.65L200.5 548.95L201.8 549.72L203.0 549.60H204.4V552.15H205.7V556.63H207.0V558.09H208.3V560.70H208.7V562.14H209.6V564.46L210.9 564.39H212.2V567.68L213.0 568.02H214.8V565.81H216.1V563.87H217.4V562.38L218.0 561.19H220.0V570.22H221.3V575.09H222.0V578.02L223.9 578.20L224.4 578.20H226.0V532.56H227.8V513.61L227.9 512.25H229.1V507.99H229.6V505.69H231.7V493.37H232.0V491.85L233.0 491.71L234.3 491.83L235.0 491.90H236.5V498.94H238.0V502.51H238.3V526.95H239.5V516.95L239.5 517.00H240.8V502.26L240.8 502.47H241.5V518.08H243.0V514.44H244.7V509.75L245.0 509.09H246.0V506.90H246.5V508.39H248.0V512.18H249.5V521.32H251.0V519.83L252.5 518.77L253.0 518.27H254.5V509.25H256.0V512.20H257.7V522.91L257.8 523.73H259.0V516.34H259.5V512.74L261.6 511.68L262.0 511.43L262.9 510.79L264.2 510.03L264.5 510.45H265.5V513.04H266.0V514.51L268.1 515.45H269.4V516.89L270.0 516.22H272.0V518.71L272.0 518.87H273.3V517.33L274.6 516.38L275.0 515.53L275.9 515.07L277.2 514.24H278.5V512.80L279.8 512.78L280.0 512.29L281.1 512.20L282.4 511.97L283.7 511.41L285.0 510.78L286.3 510.57L287.6 510.11L288.9 510.32L290.2 509.72L291.5 509.42L292.8 508.94L294.1 508.71L295.4 508.10L296.7 508.12L298.0 507.46L299.3 507.50L300.6 507.03L301.9 506.89L303.2 506.74L304.5 506.24L305.8 505.83L307.1 505.69L308.4 504.98L309.7 504.79L310.0 504.73L311.0 504.02L312.3 503.82L313.6 504.17L314.9 503.25L316.2 502.83L317.5 502.53L318.8 501.91L320.1 501.44L321.4 501.06L322.7 501.02L324.0 500.77L325.3 499.76L326.6 499.47L327.9 499.22L329.2 498.38L330.5 498.30L331.8 498.16L333.1 497.78L334.4 497.72L335.7 496.56L336.8 496.27L338.3 496.18L339.6 495.70L340.9 495.60L342.2 494.97L343.5 494.17L344.8 494.10L346.1 493.53L347.4 493.72L348.7 493.70L350.0 493.18L351.3 492.57L352.6 491.83L353.9 492.05L355.2 491.54L356.5 491.23L357.8 491.09L359.1 491.41L360.4 490.32L361.7 491.35H363.0V489.39L363.5 489.71L365.6 488.61L366.9 487.86L368.2 487.75L369.5 487.47L370.8 486.55L372.1 486.39L373.4 485.45L374.7 485.76L376.0 484.60L377.3 484.42L378.6 483.68L379.9 483.30L381.2 483.05L382.5 482.31L383.8 481.95L385.1 481.82L386.4 481.71L387.7 480.75L389.0 480.04L390.0 479.65L391.6 478.50L392.9 477.90L394.2 477.24L395.5 477.01L396.8 476.21L398.1 475.50L399.4 475.60L400.0 474.63H402.0V470.91H403.3V468.23H404.0V466.70H405.9V460.96H407.2V456.38H408.5V452.80L408.7 452.22H409.8V445.86H411.1V437.37H412.4V429.85H413.7V421.72H414.0V419.60H415.0V415.86H416.3V412.04H417.6V407.43L418.0 406.35H418.9V397.95H420.0V387.39H421.5V379.90H422.8V373.63H424.1V367.38H425.0V362.30H426.7V354.16H428.0V347.16H429.3V340.96H430.0V337.43H431.9V332.43H433.2V324.28H434.5V319.26H435.8V313.71L436.0 312.45L437.1 312.84L438.4 311.86H439.7V306.59L440.0 306.27L441.0 305.75L442.3 305.37L443.6 305.36L444.9 304.81L445.0 304.64H446.2V310.92H447.5V317.15H448.8V324.01L449.0 325.09H450.1V334.05H451.4V342.61H452.0V350.02H454.0V362.78H455.3V371.74L455.4 371.87H456.6V367.64H457.9V363.07H459.2V358.35H460.0V355.58H461.8V352.06H463.1V348.74H464.0V346.92H465.7V343.95H467.0V341.31L467.0 341.20H468.3V350.25H469.6V359.91H470.0V362.45H470.9V371.91H472.2V385.76H473.5V400.12H474.7V412.35H476.1V421.36H477.4V429.22H478.7V437.34L478.8 437.54H480.0V446.41H481.3V454.97H481.7V457.43L482.6 458.57H483.9V461.09H485.2V463.32H486.5V465.39H487.8V467.70H489.1V469.85L490.4 470.96H491.7V473.74H493.0V475.86L493.4 476.55L494.3 476.96H495.6V478.49L496.9 479.17L498.2 480.50L499.5 480.93L500.8 482.06L502.1 482.70L503.4 483.79L504.7 484.94L505.0 485.21L506.0 485.47L507.3 485.67L508.6 485.72L509.9 485.89L511.2 485.74L512.5 486.10L513.8 486.32L515.1 486.35L516.4 486.93L516.7 486.80L517.7 486.42L519.0 486.38L520.3 486.35L521.6 486.25L522.9 486.50L524.2 485.89L525.5 485.63L526.8 485.76L528.1 485.70L529.4 485.72L530.7 485.17L530.7 485.23L532.0 485.58L533.3 485.84L534.6 485.64L535.9 486.46L537.2 487.03L538.5 487.07L539.8 487.14L541.1 487.17L542.4 487.46L543.7 488.00L545.0 488.08L546.3 488.36L547.1 488.61L548.9 489.48L550.2 490.04L551.5 490.24L552.8 490.88L554.1 491.19L555.4 492.07L556.7 492.04L558.0 492.51L559.3 492.63L560.6 493.40L561.9 493.76L563.2 494.18L564.5 495.19L565.8 495.44L567.1 495.96L568.4 496.21L569.7 496.32L570.5 496.87L572.3 497.36L573.6 497.00L574.9 497.34L576.2 497.54L577.5 497.99L578.8 497.87L580.1 498.22L581.4 498.35L582.7 498.26L584.0 498.54L585.3 498.30L586.6 498.67L587.9 499.11L589.2 499.16L589.2 499.15H590.5V490.74H591.0V487.57H593.1V366.27H594.4V290.96H595.0V256.12H597.0V248.76H598.0V243.94H599.6V249.53H600.5V253.25H602.2V250.94L603.0 250.10H604.8V294.78H606.1V327.51H607.4V359.88H608.0V375.07H610.0V419.02H611.3V447.24H612.0V462.31H613.9V472.43H615.0V478.04H616.5V479.43L617.2 479.34L619.1 479.18L620.4 480.01L621.7 479.94L623.0 480.71L624.2 480.71H625.6V484.74H626.9V487.69H628.2V492.01H629.5V495.19H630.8V498.94L631.2 499.80L632.1 500.57L633.4 500.21L634.7 500.72L636.0 500.77L637.3 501.41L638.2 501.13L639.9 500.48L641.2 500.82L642.5 500.22L643.8 499.90L645.1 500.06L646.4 499.67L647.7 498.73H649.0V497.30H650.3V498.77L651.6 498.38H652.9V500.09H654.2V498.34L655.5 498.32L656.8 497.53L658.1 497.17L659.4 497.91L660.7 497.18L662.0 495.91L663.3 496.19L664.6 496.06L665.9 496.16L667.2 494.85L668.5 495.07L668.6 495.46H669.8V492.00H671.1V489.61H672.4V486.22H673.7V483.03L673.7 483.18H675.0V486.66H676.0V489.36H677.6V486.17H678.4V484.23H680.2V487.92H681.2V490.22L682.8 491.22L684.1 492.03H685.4V493.58L686.7 493.47L688.0 494.23L688.7 494.92L690.6 496.21L691.9 497.51L693.2 498.18H694.5V499.70L695.8 500.00L697.1 501.10L698.0 501.94L699.7 501.80L701.0 501.98L702.3 501.89L703.6 501.87L704.9 501.21L706.2 501.76L707.5 501.48L708.8 501.50L710.1 501.12L711.4 501.45L712.7 501.48L714.0 501.30L715.3 501.29L716.6 501.14L717.9 500.98L719.2 501.12L720.5 500.88L721.8 500.84L723.1 500.95L724.4 501.04L725.7 501.20L726.1 500.79L727.0 500.59L728.3 500.16L729.6 500.29L730.9 499.73L732.2 499.54L733.5 499.10L734.8 499.80L736.1 499.58L737.4 498.77L738.7 498.92L740.0 498.80L741.3 498.95L742.6 498.73L743.9 497.89L745.2 498.05L746.5 497.33L747.8 498.68L749.1 497.40L750.4 497.17L750.4 497.10H751.7V491.77H753.0V487.13H754.1V481.95H755.6V469.50H756.9V458.71L756.9 459.05H758.2V466.69H759.5V475.36L759.7 476.31H760.8V469.37H762.1V461.24H762.5V458.62H763.4V464.18H764.7V471.87H766.0V479.87H767.2V486.55L768.6 487.15L769.9 487.02L771.2 487.63L772.5 487.72L773.8 487.51L775.1 487.71L776.4 487.75L776.5 487.80H777.7V485.97H779.0V484.22H780.3V481.91H781.6V479.58H782.9V477.91H784.0V476.10H785.5V474.64L786.8 473.45L788.1 472.16L789.4 470.85L789.6 470.25H790.7V471.97L792.0 472.40L793.3 473.48H794.6V474.88L795.9 476.00L797.2 476.86L798.5 478.09L799.0 478.57H801.1V476.56H802.4V475.05L803.7 474.66L804.6 473.83H806.3V477.97H807.6V481.77H808.3V483.18H810.2V488.92H811.5V493.25H812.8V497.74H813.9V500.60L815.4 500.62L816.7 499.76L818.0 500.06L819.3 499.47L819.5 499.53L820.6 498.80L821.9 498.18H823.2V495.84L824.5 495.14L825.8 493.84L827.1 493.27H828.4V491.83L828.9 491.30L831.0 489.97L832.3 488.89L833.6 487.66L834.9 486.90L836.2 485.75L836.4 485.58L837.5 484.91L838.8 485.06L840.1 484.80L841.4 483.96L842.7 484.87L843.2 483.88H843.9V499.58H845.3V501.17H846.6V502.89H847.9V504.59H849.2V506.36L850.5 507.49L851.3 508.78L853.1 508.80L854.4 507.73L855.7 508.35L857.0 507.43L858.3 506.74L859.6 506.58L860.7 506.70L862.2 508.04L863.5 508.92H864.8V510.80L866.1 511.81L867.4 512.72L868.1 513.47H870.0V515.49H871.3V517.54H872.6V519.29H873.9V521.19H875.2V522.82L875.6 522.96L876.5 523.52H877.8V525.29L878.7 526.55H880.4V529.08H881.7V531.21H883.0V533.08H884.3V535.23H885.6V537.54L886.2 538.23H888.2V542.84H889.5V546.40H890.8V549.49H892.1V552.63H893.4V556.65L893.6 556.87H894.7V558.77L896.0 559.69H897.3V561.07L898.6 562.20L899.9 563.56H901.1V565.13L902.5 566.10H903.8V567.78L905.1 568.70L906.4 569.79L907.7 570.66L909.0 571.43H910.3V573.12L911.6 573.71L912.3 574.44L914.2 575.15L915.5 575.15L916.8 575.44L918.1 575.51L919.4 576.51L920.7 577.02L921.7 576.69L923.3 577.96L924.6 578.88L925.9 579.53L927.2 580.02L928.5 580.23L929.8 580.71L931.1 581.56L932.4 582.73L933.7 583.80L934.8 583.93L936.3 583.77L937.6 584.02L938.9 583.64L940.2 583.01L941.5 583.53L942.2 583.93H944.1V576.08H945.4V568.89H946.0V567.47H948.0V564.15H949.3V557.88H949.7V556.30H950.6V557.73H951.9V561.14H953.2V564.71L953.5 565.01H954.4V574.56H955.8V558.20H957.1V543.77H957.2V542.27H958.4V560.32H959.1V569.65H961.0V562.93H961.9V559.46H963.6V561.34L964.9 561.47H966.2V564.98L967.5 563.61H968.4V566.09L970.1 565.49L971.4 565.86H972.7V564.40L974.0 565.04L975.3 565.37H976.6V563.84L977.9 563.97L979.2 562.60L979.6 562.80L980.5 563.20L981.8 564.20L983.1 564.15L984.4 563.47L985.7 563.65H987.0V559.63H988.3V563.33L989.6 563.39L990.8 563.74L992.2 564.84L993.5 564.00L994.8 563.61L996.1 563.78L997.4 564.60H998.7V567.16H1000.0V564.47L1001.3 564.20L1002.6 565.53L1003.9 566.45H1005.2V564.65L1006.5 565.39L1007.8 564.06H1009.1V568.66H1009.5V565.91L1010.4 564.89H1011.7V566.32L1013.0 565.61L1014.3 566.72H1015.6V564.89H1016.9V569.04H1018.2V565.88L1019.5 566.16H1020.8V567.58H1022.1V565.36L1023.4 564.35H1024.7V565.75H1026.0V564.32H1027.3V568.53H1028.2V564.09L1029.9 565.22H1031.2V563.22L1032.5 563.28L1033.8 564.46L1035.1 565.17H1036.4V562.68H1037.7V569.58H1039.0V565.64L1040.3 564.61H1041.6V566.65L1042.9 565.82H1044.2V567.59H1045.0V565.33" fill="none" stroke="#0000cd" stroke-width="1.05"/>
<path d="M155.0 588.72L156.3 588.53L157.6 588.48L158.9 588.65L160.2 589.74L161.5 589.40L162.8 590.22L164.1 590.14L165.4 590.22L166.7 589.37H168.0V591.27L169.3 590.29L170.6 591.59L171.9 590.51L173.2 590.58L174.5 591.25L175.8 590.47H177.1V588.49H178.4V591.12L179.7 592.16L181.0 591.43L182.3 592.02L183.6 592.45L184.9 591.54L186.2 592.32H187.5V594.05L188.8 593.34L190.1 592.91L191.4 592.27H192.7V593.90L194.0 592.66L195.3 593.08L196.6 593.31L197.9 593.71L199.2 593.12L200.5 593.51L201.8 593.57L203.0 593.92H204.4V596.11H205.7V598.81H207.0V600.73H208.3V605.02L208.7 604.85H209.6V607.07L210.9 608.21H212.2V609.87H213.0V611.98H214.8V609.46L216.1 608.81H217.4V607.04L218.0 606.40H220.0V612.74H221.3V617.92H222.0V619.64L223.9 619.70L224.4 619.73H226.0V579.37H227.8V557.96L227.9 557.95H229.1V552.55H229.6V549.32H231.7V533.60H232.0V531.16L233.0 531.71L234.3 531.73L235.0 531.21H236.5V540.58H238.0V544.96H238.3V573.67H239.5V563.85L239.5 563.61H240.8V545.22L240.8 545.26H241.5V564.88H243.0V560.80H244.7V555.36L245.0 554.07L246.0 553.13L246.5 552.84H248.0V557.85H249.5V568.08L251.0 566.93L252.5 565.73L253.0 565.03H254.5V553.97H256.0V558.00H257.7V570.36L257.8 570.71H259.0V562.14H259.5V558.52H261.6V557.08L262.0 556.79L262.9 556.74L264.2 556.11L264.5 555.73H265.5V559.42H266.0V560.91L268.1 560.75H269.4V562.76L270.0 563.11H272.0V565.58L272.0 565.43L273.3 564.32H274.6V562.22L275.0 561.92L275.9 561.09H277.2V558.61L278.5 559.31L279.8 558.57L280.0 557.93L281.1 558.03L282.4 557.84L283.7 557.36L285.0 557.25L286.3 556.51L287.6 556.49L288.9 556.63L290.0 556.19L291.5 555.99L292.8 555.54L294.1 554.86L295.4 554.84L296.7 555.40L298.0 554.07L299.3 553.37L300.6 553.05L301.9 552.53L303.2 551.61L304.5 551.56L305.8 551.09L307.1 550.72L308.4 550.27L309.7 550.06L310.0 549.69L311.0 549.14L312.3 549.03L313.6 547.78L314.9 547.49L316.2 547.77L317.5 546.51L318.8 546.53L320.1 545.66L321.4 545.68L322.7 545.11L324.0 544.82L325.3 544.20L326.6 543.90L327.9 542.82L329.2 543.04L330.5 541.99L331.8 541.87L333.1 541.11L334.4 541.00L335.7 540.32L337.0 539.71L337.0 539.75L338.3 539.26L339.6 538.82L340.9 538.78L342.2 538.08L343.5 537.50L344.8 536.91L346.1 536.91L347.4 537.68H348.7V535.65L350.0 534.88L351.3 534.59L352.6 534.27L353.9 533.96L355.2 533.40L356.5 533.23L357.8 531.99L359.1 532.65L360.4 531.78L361.7 531.30L363.0 530.47L363.5 530.59L365.6 529.86L366.9 529.78L368.2 529.57L369.5 529.38L370.8 529.09L372.1 528.41L373.4 528.01L374.7 528.47L376.0 528.03L377.3 527.69L378.6 527.36L379.9 527.10L381.2 526.14L382.5 526.40L383.8 526.38L385.1 525.85L386.4 525.75L387.7 525.37L389.0 524.85L390.0 524.64L391.6 524.38L392.9 524.43L394.2 523.42L395.5 523.85L396.8 522.78L398.0 523.19H399.4V520.69H400.7V518.62H402.0V516.29H403.0V514.79H404.6V509.21H405.9V505.45H407.0V501.52H408.5V493.87H409.8V487.11H411.0V481.34H412.4V472.44H413.7V463.31H415.0V456.60H415.7V452.24H417.6V439.91H418.9V432.21H420.0V424.55H421.5V415.67H422.8V407.77H424.1V399.48H425.0V393.04H426.7V384.77H428.0V381.39H429.3V372.34H430.0V369.35H431.9V361.41H433.2V356.73H434.5V352.38H435.0V350.09H437.1V346.10H438.4V344.62L439.0 343.37H441.0V347.48H442.3V349.89H443.6V354.37L444.0 353.81H444.9V357.51H446.2V365.25H447.5V373.18H448.8V380.13L449.0 381.28H450.1V387.84H451.4V396.42H452.7V404.06H454.0V412.02H455.0V418.46H456.6V413.93H457.9V409.57L459.2 408.60H460.5V401.66H461.0V399.98H463.1V393.39H464.4V389.92H465.7V386.13H467.0V381.97L467.0 381.12H468.3V389.68H469.6V397.20H470.9V405.73L471.0 406.30H472.2V424.92H473.5V438.17H474.8V459.08H476.1V477.43H476.4V481.32H477.4V484.47H478.7V487.82H480.0V492.00H481.3V495.69L481.7 496.78H482.6V499.07H483.9V501.46H485.2V504.59H486.5V508.19H487.8V511.06H488.7V512.78H490.4V515.38H491.7V517.09H493.0V518.76H494.3V520.30H495.6V522.33H496.9V524.40H498.2V526.49H499.5V528.01L500.4 528.93L502.1 530.06L503.4 531.11L504.7 531.13L506.0 531.48L507.3 532.80L508.6 532.99L509.9 533.83L511.2 534.57L512.0 534.86L513.8 534.81L515.1 534.94L516.4 534.92L517.7 534.74L519.0 534.82L520.3 534.64L521.6 534.32L522.9 534.95L524.2 534.49L525.5 534.49L526.8 534.60L528.1 534.21L529.4 535.49H530.7V533.98L530.7 534.09L532.0 534.72L533.3 534.83L534.6 535.18L535.9 535.17L537.2 535.19L538.5 535.81L539.8 535.66L541.1 536.22L542.4 536.90L543.7 536.85L545.0 536.92L546.3 537.76L547.1 537.85L548.9 538.33L550.2 538.13L551.5 539.20L552.8 539.28L554.1 539.87L555.4 540.38L556.7 540.57L558.0 541.17L559.3 541.37L560.6 541.40L561.9 541.73L563.2 542.79L564.5 543.24L565.8 542.91L567.1 543.43L568.1 543.66L569.7 544.14L571.0 543.71L572.3 544.60L573.6 544.66L574.9 544.90L576.2 544.97L577.5 545.70L578.8 545.44L580.1 546.27L581.4 546.44L582.7 546.08L584.0 546.73L585.3 546.97L586.6 546.83L587.9 546.53L589.2 547.31L589.2 547.36H590.5V540.93H591.0V537.63H593.1V403.31H594.4V319.84H595.0V281.35H597.0V268.58H598.0V262.45H599.6V270.20H600.5V274.92H602.2V272.90L603.0 272.06H604.8V308.67H606.1V335.96H607.4V362.70H608.0V374.86H610.0V437.51H611.3V477.58H612.0V500.11H613.9V516.13H615.0V524.95H616.5V526.68L617.2 527.53L619.1 528.21L620.4 529.16L621.7 529.17L623.0 529.93L624.2 530.41H625.6V534.95H626.9V538.46H628.2V542.51H629.5V545.77H630.8V549.06H631.2V551.00L632.1 551.16L633.4 551.45L634.7 551.33L636.0 551.66L637.3 551.86L638.2 551.65L639.9 550.80L641.2 551.38L642.5 551.03L643.8 550.63L645.1 550.19L646.4 550.80L647.7 550.14L649.0 549.91L650.3 549.40L651.6 549.23L652.9 549.28L654.2 548.63L655.5 549.12L656.8 548.43L658.1 548.70L659.4 548.16L660.7 547.68L662.0 548.25L663.3 547.45L664.6 547.10L665.9 547.29L667.2 546.92L668.5 546.59L668.6 546.40H669.8V543.01H671.1V540.42H672.4V536.69H673.7V533.54L673.7 533.43H675.0V536.55H676.0V538.60H677.6V535.77L678.4 534.50H680.2V539.14H681.2V541.66L682.8 542.17L684.1 542.61L685.4 543.55L686.7 543.48L688.0 543.97L688.7 544.02H690.6V546.13L691.9 547.40L693.2 548.37L694.5 549.40H695.8V551.11H697.1V552.80L698.0 553.33L699.7 553.16L701.0 553.52L702.3 553.07L703.6 552.49L704.9 553.41L706.2 552.89L707.5 552.63L708.8 552.63L710.1 552.77L711.4 552.39L712.7 552.96L714.0 552.50L715.3 552.48L716.6 552.30L717.9 551.98L719.2 552.11L720.5 552.47L721.8 551.76L723.1 551.77L724.4 551.83L725.7 551.44L726.1 551.70L727.0 551.22L728.3 551.58L729.6 551.09L730.9 549.80L732.2 551.10L733.5 551.84L734.8 550.84H736.1V553.21H737.4V550.93L738.7 550.51L740.0 550.88L741.3 550.52L742.6 549.98L743.9 549.85L745.2 550.29L746.5 550.20L747.8 549.62L749.1 549.99L750.4 549.85L750.4 549.91H751.7V544.72L753.0 544.29H754.3V541.43H755.6V538.83H756.9V536.43L756.9 536.04L758.2 535.68L759.5 536.40L760.8 536.31L762.1 536.48L763.4 536.53L763.5 537.01H764.7V539.30H766.0V541.65H767.3V544.22H768.6V546.65L769.1 547.59L771.2 547.96L772.5 548.30L773.8 548.52L774.7 549.12L776.4 547.75L777.7 547.30L779.0 547.43L780.3 546.62L781.6 546.70L782.9 545.95L784.2 545.47L785.5 545.21L786.8 544.91L788.1 544.95L789.4 543.95L789.6 544.00L790.7 544.51L792.0 545.17L793.3 545.35L794.6 545.72L795.9 546.50L797.2 546.93L798.5 547.45L799.0 547.44H801.1V545.07H802.4V543.29L803.7 541.94H804.6V540.53H806.3V543.86H807.6V546.13H808.9V549.25H810.2V550.71H811.5V553.31L812.0 554.48H814.1V553.05L815.4 553.32L816.7 553.52L818.0 552.87L819.3 552.57L819.5 552.83H820.6V550.67H821.9V549.18H823.2V547.25H824.5V545.52L825.8 544.68H827.1V542.76L828.4 541.53L828.9 540.44H831.0V538.26H832.3V536.40L833.6 535.83H834.9V534.00H836.2V532.27L836.4 532.28L837.5 532.50L838.8 531.62L840.1 531.63L841.4 531.46L842.7 530.96L843.2 531.30H843.9V550.02L845.3 550.22L846.6 550.91L847.9 551.55L849.2 552.01L850.5 552.53L851.8 552.50L853.1 553.32L853.2 553.25L854.4 553.14L855.7 553.11L857.0 553.01L858.3 552.00L859.6 552.46L860.7 552.13L862.2 553.02L863.5 553.57L864.8 554.09L866.1 554.87L867.4 555.25L868.7 555.54L870.0 556.23L871.2 556.90L872.6 558.15H873.9V560.16H875.2V561.96L876.5 563.19H877.8V565.44L878.7 566.34H880.4V569.79H881.7V572.23H883.0V574.78H884.3V577.65H885.6V580.23H886.9V582.97H888.0V584.87H889.5V587.70H890.8V590.10H892.1V591.80H893.4V594.36H894.7V596.60H896.0V598.80H897.3V601.38L897.4 600.92L898.6 602.24L899.9 602.97L901.2 603.87L902.5 604.41L903.8 605.11L905.1 606.28L906.4 606.93L907.7 607.95L908.6 608.27L910.3 608.49L911.6 609.10L912.9 609.22L914.2 609.41L915.5 609.90L916.8 609.94L918.1 610.30L919.4 610.67L919.8 610.53L920.7 611.15L922.0 611.30L923.3 611.63L924.6 612.09L925.9 612.35L927.2 612.43L928.5 613.35L929.8 613.62L931.1 614.74L932.4 615.10L933.7 614.76L934.8 615.35L936.3 615.26L937.6 614.56L938.9 613.92H940.2V612.05L941.5 612.70L942.2 612.51H944.1V603.87H945.4V597.27H946.0V594.25H948.0V590.06H949.3V586.16L949.7 585.14L950.6 586.51H951.9V589.87H953.2V593.07H953.5V595.23H954.4V603.57H955.8V590.32H957.1V576.63L957.2 575.73H958.4V578.96H959.7V583.56H961.0V586.75H961.9V589.61L963.6 590.44L964.9 591.01H966.2V592.48H967.5V594.48L968.8 595.56L970.1 595.40L970.3 596.39L971.4 595.69L972.7 597.02L974.0 596.02L975.3 595.91L976.6 596.95H977.9V593.57H979.2V597.00L980.5 597.18L981.8 596.19L983.1 597.42L984.4 596.41H985.7V598.31H987.0V595.76H988.3V597.69H989.6V596.09L990.8 596.38L992.2 595.55L993.5 596.51L994.8 595.16L996.1 595.95L997.4 596.49L998.7 596.84H1000.0V598.59L1001.3 598.45L1002.6 597.71L1003.9 598.24L1005.2 597.51L1006.5 596.50H1007.8V598.22L1009.1 598.10L1009.5 598.64L1010.4 598.63H1011.7V596.02H1013.0V597.78L1014.3 597.76L1015.6 597.60L1016.9 597.13H1018.2V599.05L1019.5 598.04H1020.8V596.54L1022.1 597.08H1023.4V599.71H1024.7V603.21H1026.0V599.08H1027.3V597.63H1028.6V599.20H1029.9V593.89H1031.2V595.96H1032.5V599.50H1033.8V595.90L1035.1 596.84H1036.4V599.70H1037.7V597.60L1039.0 597.16L1040.3 597.82H1041.6V591.73H1042.9V597.03H1044.2V595.43L1045.0 596.11" fill="none" stroke="#000000" stroke-width="1.05"/>
<path d="M155.0 621.53H156.3V623.27L157.6 622.14L158.9 622.77L160.2 622.36L161.5 621.94H162.8V619.96H164.1V622.41L165.4 622.48L166.7 623.16L168.0 623.15L169.3 622.48L170.6 621.89L171.9 622.92L173.2 623.60L174.5 624.29L175.8 623.74L177.1 624.08L178.4 624.50L179.7 624.71L181.0 623.77L182.3 624.20L183.6 624.84L184.9 624.29L186.2 624.22L187.5 624.71L188.8 625.02L190.1 625.75L191.4 625.00L192.7 624.95L194.0 625.34L195.3 626.18L196.6 624.82L197.9 626.16L199.2 626.69L200.5 626.03H201.8V623.15H203.0V626.26H204.4V629.27H205.7V632.74H207.0V636.57H208.3V639.21L208.7 639.71L209.6 640.05H210.9V641.70H212.2V644.51L213.0 644.53L214.8 643.58H216.1V641.73L217.4 640.67L218.0 639.79H220.0V646.31H221.3V650.81H222.0V653.10L223.9 652.80L224.4 653.11H226.0V611.25H227.8V590.91L227.9 589.75H229.1V584.54H229.6V581.91H231.7V566.82H232.0V565.14L233.0 564.82L234.3 565.35L235.0 565.04H236.5V573.83H238.0V578.12H238.3V605.54H239.5V595.74L239.5 595.57H240.8V577.98L240.8 577.97H241.5V596.92H243.0V592.78H244.7V587.14L245.0 586.15L246.0 586.11L246.5 585.25H248.0V590.19H249.5V600.03L251.0 598.86H252.5V597.24L253.0 597.00H254.5V586.28H256.0V590.06H257.7V602.07L257.8 602.55H259.0V594.27H259.5V590.52H261.6V589.04L262.0 588.90L262.9 588.43L264.2 588.11L264.5 587.84H265.5V591.23H266.0V592.74L268.1 593.91L269.4 594.87L270.0 595.11H272.0V597.67L272.0 597.53H273.3V596.08H274.6V592.79L275.0 593.79L275.9 592.97L277.2 592.54L278.5 591.58L279.8 590.83L280.0 590.26L281.1 590.16L282.4 589.42L283.7 588.69L285.0 588.49H286.3V587.11L287.6 587.05L288.9 586.15L290.2 585.99L291.5 584.73L292.8 585.13L294.1 584.47L295.4 584.27L296.7 582.99L298.0 582.82L299.3 582.64L300.6 581.38L301.9 581.29L303.2 580.20L304.5 580.83L305.8 579.51L307.1 579.26H308.4V577.39L309.7 577.69L310.0 578.02L311.0 577.30L312.3 577.52L313.6 577.37H314.9V575.90L316.2 576.13L317.5 575.34L318.8 575.45L320.1 575.10L321.4 574.79L322.7 574.31L324.0 573.27L325.3 572.95L326.6 572.90L327.9 572.71L329.2 571.89L330.5 571.59L331.8 571.44L333.1 570.94L334.4 570.81L335.7 569.79L337.0 569.73L337.0 569.70L338.3 569.32L339.6 568.84L340.9 568.32L342.2 568.45L343.5 567.49L344.8 567.37L346.1 566.88H347.4V568.26L348.7 567.69H350.0V565.72L351.3 565.66L352.6 564.59L353.9 564.57L355.2 564.15L356.5 563.86L357.8 562.99L359.1 562.86L360.4 562.01L361.7 562.05H363.0V559.69L363.5 560.98L365.6 560.38L366.9 560.64L368.2 560.62L369.5 559.76L370.8 560.72L372.1 559.87L373.4 559.04L374.7 560.17L376.0 559.17L377.3 558.25L378.6 558.30L379.9 558.10L381.2 558.03L382.5 558.29L383.8 557.38L385.1 557.18L386.4 557.09L387.7 557.00L389.0 556.67L390.0 556.27L391.6 555.29H392.9V553.70L394.2 552.62L395.5 552.44H396.8V550.14L398.1 549.53L399.3 548.42H400.7V544.70H402.0V540.87H403.3V536.75H404.6V533.14H405.9V529.38L406.4 528.11H408.5V520.14H409.8V516.10H411.1V511.47H412.4V506.77H413.4V503.16H415.0V495.07H416.3V488.26H417.6V481.38H418.9V474.56H420.2V467.96L420.4 466.75H421.5V459.42H422.8V451.14H424.1V443.12H425.0V437.45H426.7V429.50H428.0V418.72H429.3V411.05H430.0V406.27H431.9V398.02H433.2V392.52H434.5V386.41H435.0V384.36H437.1V380.60L438.4 380.51H439.7V377.23L440.2 376.22H442.3V381.10H443.6V384.69H444.9V387.78L445.0 387.52H446.2V396.29H447.5V405.92H448.8V416.02H450.0V424.91H451.4V433.02H452.7V440.33H454.0V447.87H455.0V453.60H456.6V447.28H457.9V445.80H459.2V442.81H460.5V438.74L461.0 437.64H463.1V431.64H464.4V428.53H465.7V424.89H467.0V421.42L467.0 421.68H468.3V430.82H469.6V437.26H470.9V448.87H471.0V450.89H472.2V461.74H473.5V474.09H474.8V486.37H476.1V501.16H477.4V511.18H478.7V523.88L478.8 524.97H480.0V528.04H481.3V531.16H482.6V533.72H483.9V536.55H485.2V540.72H486.5V543.33H487.8V546.17L488.0 546.89L489.1 548.00H490.4V549.72L491.7 550.78H493.0V552.98H494.3V555.17H495.6V556.57L496.9 557.90H498.2V559.61H499.5V561.41L499.8 561.70L500.8 562.12L502.1 563.26L503.4 564.37L504.7 565.55L505.0 565.52L506.0 565.97L507.3 566.47L508.6 566.66L509.9 567.20L511.2 567.80L512.5 567.52L513.8 568.32L515.1 568.76L516.4 569.68L516.7 569.02L517.7 568.85L519.0 568.52L520.3 568.51L521.6 568.75L522.9 568.25L524.2 568.36L525.5 568.26H526.8V566.83H528.1V568.23L529.4 567.96L530.7 567.68L530.7 567.71L532.0 568.10L533.3 568.14L534.6 568.73L535.9 568.88L537.2 569.03L538.5 569.37L539.8 569.44L541.1 570.12L542.4 570.16L543.7 570.41L545.0 570.82L546.3 571.79L547.1 571.47L548.9 571.75L550.2 572.05L551.5 572.94L552.8 572.87L554.1 573.88L555.4 573.77L556.7 574.67L558.0 575.35L559.3 575.10L560.6 575.78L561.9 576.22L563.2 577.08L564.5 577.51L565.8 576.99L567.1 578.00L568.1 578.03L569.7 578.32L571.0 578.61L572.3 578.39L573.6 578.68L574.9 579.12L576.2 579.01L577.5 579.71L578.8 579.89L580.1 580.50L581.4 579.99L582.7 580.91L584.0 580.86L585.3 581.07L586.6 581.21L587.9 581.45L589.2 581.58L589.2 581.56H590.5V572.73H591.0V568.57H593.1V434.55H594.4V351.10H595.0V312.54H597.0V308.69H598.0V306.27H599.6V302.38H600.5V300.07H602.2V296.63H603.0V295.10H604.8V335.36H606.1V364.01H607.4V393.08H608.0V406.19H610.0V468.89H611.3V509.47H612.0V531.15H613.9V547.14H615.0V556.31H616.5V558.38L617.2 559.59L619.1 560.52L620.4 560.92L621.7 561.35L623.0 562.18L624.2 562.56H625.6V567.08H626.9V571.41H628.2V575.26H629.5V579.28H630.8V583.01H631.2V584.62L632.1 584.57L633.4 585.26L634.7 584.77L636.0 585.07L637.3 584.84L638.2 585.29L639.9 584.70L641.2 584.95L642.5 585.25L643.8 584.83L645.1 584.10L646.4 584.57L647.7 583.82L649.0 583.91L650.3 583.69L651.6 583.58L652.9 583.51L654.2 582.70L655.5 583.51L656.8 583.03L658.1 582.61L659.4 582.83L660.7 582.99L662.0 582.14L663.3 582.46L664.6 582.10L665.9 581.99L667.2 581.66L668.5 581.67L668.6 581.68H669.8V578.14H671.1V575.02H672.4V571.76H673.7V568.52L673.7 568.42H675.0V571.34H676.0V573.65H677.6V570.94H678.4V569.37H680.2V574.16H681.2V576.78L682.8 576.87L684.1 576.93L685.4 577.61L686.7 577.51L688.0 577.66L688.7 578.08L690.6 579.43H691.9V581.38H693.2V582.83L694.5 583.66L695.8 584.88H697.1V586.46L698.0 587.18L699.7 586.63L701.0 587.45L702.3 587.53L703.6 586.66L704.9 587.18L706.2 586.98L707.5 586.87L708.8 587.03L710.1 586.66L711.4 586.64L712.7 586.71L714.0 586.71L715.3 585.89L716.6 586.85L717.9 586.63L719.2 586.72L720.5 586.32L721.8 586.02L723.1 586.42L724.4 586.36L725.7 586.43L726.1 586.19L727.0 585.86L728.3 585.72L729.6 585.91L730.9 586.02L732.2 585.82L733.5 585.63L734.8 585.76L736.1 585.13L737.4 585.56L738.7 584.90L740.0 585.94L741.3 584.88L742.6 585.84L743.9 585.52L745.2 585.51L746.5 585.38L747.8 584.98L749.1 585.04L750.4 585.08L750.4 584.85H751.7V582.79H753.0V581.03H754.3V578.47H755.6V577.05H756.9V574.34L756.9 574.38L758.2 575.50L759.5 576.29L760.8 577.46L762.1 578.56L763.4 579.53L764.7 580.70L766.0 581.74L767.2 582.60L768.6 582.64L769.9 582.60L771.2 582.68L772.5 582.69L773.8 582.81L775.1 583.05L776.4 582.41L777.7 583.10L779.0 582.84L780.3 582.88L781.6 582.45L782.9 582.68L784.2 582.69L785.5 582.52L786.8 582.80L788.1 582.27L789.4 582.36L789.6 582.64L790.7 583.26L792.0 583.33L793.3 584.55L794.6 585.12L795.9 585.97L797.2 586.35L798.5 587.01L799.0 587.17H801.1V583.94H802.4V581.83H803.7V580.06H804.6V578.33H806.3V581.30H807.6V583.77L808.9 584.84H810.2V587.95H811.5V590.03L812.0 590.76L814.1 589.85L815.4 588.96L816.7 588.78L818.0 588.01L819.3 586.82L819.5 587.30H820.6V585.82L821.9 584.57L823.2 583.67H824.5V582.16L825.8 581.03L827.1 579.77H828.4V578.37L828.9 577.96H831.0V574.85L832.3 574.14H833.6V572.28H834.9V570.23H836.2V568.73L836.4 569.17L837.5 567.81L838.8 567.04L840.1 567.53L841.4 566.76L842.7 565.93L843.2 565.76H843.9V584.97L845.3 585.48L846.6 585.77L847.9 586.14L849.2 585.98L850.5 586.59L851.8 586.99L853.1 586.92L853.2 587.14L854.4 587.04L855.7 587.32L857.0 586.64L858.3 586.78L859.6 586.64L860.7 586.24L862.2 587.48L863.5 587.83L864.8 588.74L866.1 590.05L867.4 591.30L868.1 591.93H870.0V593.48L871.3 594.67H872.6V596.08L873.9 596.73H875.2V598.38L876.5 599.52L877.8 600.02L878.7 601.32H880.4V604.72H881.7V607.48H883.0V610.08H884.3V611.94H885.6V615.71H886.9V617.82H888.0V620.08H889.5V622.48H890.8V623.89H892.1V626.09H893.4V627.98H894.7V630.59L896.0 631.53H897.3V634.28L897.4 634.07L898.6 634.59L899.9 635.00L901.2 635.92L902.5 636.84L903.8 637.06L905.1 638.06L906.4 638.85L907.7 639.54L908.6 639.78L910.3 640.17L911.6 640.34L912.9 639.70L914.2 640.07L915.5 640.14L916.8 640.47L918.1 641.03L919.4 641.10L919.8 641.03L920.7 640.92L922.0 641.45L923.3 640.82L924.6 640.97L925.9 641.67L927.2 641.49L928.5 641.97L929.8 642.02L931.1 642.24L932.4 641.66L933.7 641.85L935.0 641.48L936.3 640.21H937.6V642.37L938.9 642.22L940.2 642.46L941.5 642.77L942.2 642.88H944.1V632.83H945.4V623.85L946.0 623.48H948.0V618.07H949.3V615.06H949.7V613.09L950.6 614.10H951.9V618.08H953.2V622.19L953.5 623.05H954.4V631.80H955.8V616.50H957.1V602.67L957.2 602.39H958.4V605.34H959.7V607.92H961.0V611.12H962.3V614.72L962.8 615.09H964.9V618.15L966.2 618.67H967.5V620.90H968.8V624.24L970.1 624.78H971.4V626.38H972.1V629.19H974.0V627.72L975.3 628.76L976.6 629.53L977.9 629.78H979.2V627.89L980.5 628.33L981.8 627.60H983.1V629.47L984.4 628.53H985.7V630.42H987.0V627.66L988.3 628.02H989.6V625.56H990.8V627.92L992.2 627.53L993.5 628.57L994.8 629.08H996.1V627.49L997.4 628.15L998.7 628.87H1000.0V624.82H1001.3V632.33H1002.6V629.96H1003.9V627.87L1005.2 628.83L1006.5 629.73L1007.8 628.70H1009.1V630.26H1009.5V628.63L1010.4 629.82L1011.7 628.91L1013.0 629.26L1014.3 627.89H1015.6V629.76H1016.9V627.32H1018.2V629.71L1019.5 628.54L1020.8 628.80L1022.1 629.97H1023.4V622.26H1024.7V629.34H1026.0V631.82H1027.3V630.37L1028.6 629.35L1029.9 628.34H1031.2V630.61H1032.5V627.73H1033.8V630.23H1035.1V626.30H1036.4V628.73L1037.7 627.40L1039.0 628.20H1040.3V626.55L1041.6 627.28L1042.9 627.37H1044.2V625.15H1045.0V627.57" fill="none" stroke="#005f14" stroke-width="1.05"/>
<path d="M155.0 654.04L156.3 653.13L157.6 653.46L158.9 654.04L160.2 654.34L161.5 654.95L162.8 655.08L164.1 654.23L165.4 655.33L166.7 655.74L168.0 655.44L169.3 655.01L170.6 655.03L171.9 654.82L173.2 654.29L174.5 655.04L175.4 655.28L177.1 655.89L178.4 656.04L179.7 656.36L181.0 656.52L182.3 656.79L183.6 656.41L184.9 656.69L186.2 657.31L187.5 658.06H188.8V656.44L190.1 657.00L191.4 657.64L192.7 657.39L194.0 657.83L195.3 658.33L196.6 658.06L197.9 659.14L199.2 659.26H200.5V657.70H201.8V659.50L203.1 659.86L203.3 658.95H204.4V662.27H205.7V664.08H207.0V668.59L208.3 669.79H209.6V673.00L209.6 672.70H210.9V674.89H212.0V677.73L213.5 676.66L214.8 676.19H216.1V674.43L217.4 673.44L218.5 672.30H220.0V677.05H221.3V680.40H222.3V685.57L223.9 684.70L224.8 684.00H226.0V643.21H227.8V624.21L227.9 622.94H229.1V618.10H229.6V616.09H231.7V604.26H232.0V602.51L233.0 602.54L234.3 602.69L235.0 602.67H236.5V609.69H238.0V613.18H238.3V637.46H239.5V627.41L239.5 627.64H240.8V613.20L240.8 613.15H241.5V628.63H243.0V625.08H244.7V620.79L245.0 619.83L246.0 619.10L246.5 618.92H248.0V622.88H249.5V631.85L251.0 630.75L252.5 629.46L253.0 628.79H254.5V619.76H256.0V623.01H257.7V633.39L257.8 634.41H259.0V626.30H259.5V623.16L261.6 622.11L262.0 621.83L262.9 621.61L264.2 620.84L264.5 621.12H265.5V623.64L266.0 624.97L268.1 625.91L269.4 626.39L270.0 627.00H272.0V629.49L272.0 629.44L273.3 628.16L274.6 627.12L275.0 626.01L275.9 625.49L277.2 625.08L278.5 624.01L279.8 622.78L280.0 623.02L281.1 622.85L282.4 623.07L283.7 622.98L285.0 622.31L286.3 622.29L287.0 622.24L288.9 621.07L290.2 620.61L291.5 620.38L292.8 619.80L294.1 619.00L295.4 618.69L296.7 618.29L298.0 617.44L299.3 616.87L300.6 616.51L301.9 615.71L302.2 615.80L303.2 615.33L304.5 614.32L305.8 614.13L307.1 613.78L308.4 612.86L309.7 612.90H311.0V610.44L312.3 611.81L313.6 610.85L314.9 610.47L316.2 609.70L317.5 608.85L318.8 608.75L320.1 607.81L321.4 607.59L322.7 606.59L324.0 606.30L325.3 605.64L326.6 605.50L327.5 604.73L329.2 604.68L330.5 604.21L331.8 604.18L333.1 603.34L334.4 603.42L335.7 603.10L337.0 602.73L338.3 602.31L339.6 602.33L340.9 601.25L342.2 601.54L343.5 600.87L344.8 602.24H346.1V600.66L347.4 600.21L347.8 599.98L348.7 599.36L350.0 598.64L351.3 598.27L352.6 598.02L353.9 596.90L355.2 597.46L356.5 596.15L357.8 595.38L359.1 595.31L360.4 594.75L361.7 593.99L363.0 593.09L363.5 593.07L365.6 593.01L366.9 592.66L368.2 591.64L369.5 592.18L370.8 592.19L372.1 591.27L373.4 590.69L374.7 590.76L376.0 590.76L377.3 590.44L378.6 590.19L379.9 589.14L381.2 589.56L382.5 589.31L383.8 589.24L385.1 589.34L386.4 588.55L387.7 588.84L389.0 588.67L390.2 588.15L391.6 587.41L392.9 587.47L394.2 586.52L395.5 586.11L396.8 585.28L398.1 584.97L399.4 584.52L399.5 584.86H400.7V582.33H402.0V579.59H403.3V576.69L403.5 575.73H404.6V572.02H405.9V567.38H407.2V563.05H408.5V557.79L408.9 556.54H409.8V550.75H411.1V542.15H411.5V539.79H412.4V537.25H413.7V534.03H415.0V530.10H416.3V527.15H416.9V525.16H418.9V512.61H420.2V504.65H420.4V503.08H421.5V497.31H422.8V491.48H424.1V485.79H425.0V481.38H426.7V467.69H428.0V456.24H429.3V448.08H429.7V444.70H430.6V438.92H431.9V432.09H433.0V425.03L434.5 424.15L435.8 423.74L437.1 422.48L438.4 422.40L438.5 422.24H439.7V426.21H441.0V431.02H442.3V435.12H443.0V438.01H444.9V449.23H446.2V457.25H447.5V465.57H448.0V468.87H450.1V477.71H451.4V483.86H452.7V489.90H454.0V496.16H454.3V497.93H455.3V493.58H456.6V487.71H457.9V482.90H459.2V478.30H460.0V474.78H461.8V471.02L463.1 470.62H464.4V465.33H465.7V462.45H467.0V459.29L467.0 459.31H468.3V472.82H469.6V488.00H470.9V501.48H471.0V500.02H472.2V508.37H473.5V517.40H474.8V526.87H476.1V535.81H477.4V544.45H478.7V553.82L478.8 554.86H480.0V558.36H481.3V562.09H482.6V566.63H483.9V573.14H485.2V574.59H485.8V576.11H487.8V579.53H489.1V582.02H490.4V584.26H491.7V586.53H493.0V588.96H494.3V590.72H495.1V592.20L496.9 593.02H498.2V594.53L499.5 595.27L500.8 595.69L502.1 596.61L503.4 597.80L504.7 598.14L506.0 599.24L506.8 599.62L508.6 600.33L509.9 601.01L511.2 601.61L512.5 601.70L513.8 601.84H515.1V604.41H516.4V602.93L516.7 603.35L517.7 603.52L519.0 602.82L520.3 602.77L521.6 602.75L522.9 602.24L524.2 602.47L525.5 602.64L526.8 601.65L528.1 601.68L529.4 600.74L530.7 601.23L530.7 601.45L532.0 601.55L533.3 601.73L534.6 602.29L535.9 602.36L537.2 603.16L538.5 603.00L539.8 601.96H541.1V603.53L542.4 603.16L543.7 604.33L545.0 604.65L546.3 604.25L547.1 604.76L548.9 605.36L550.2 605.99L551.5 606.78L552.8 606.49L554.1 606.92L555.4 607.54L556.7 608.33L558.0 608.10L559.3 608.66L560.6 608.96L561.9 609.85L563.2 610.43L564.5 611.00H565.8V609.10H567.1V611.48L568.1 611.51L569.7 612.01L571.0 612.50L572.3 612.64L573.6 612.43L574.9 612.87L576.2 613.10L577.5 613.77L578.8 613.84L580.1 613.91L581.4 614.50L582.7 614.69L584.0 614.66L585.3 615.42L586.6 615.41L587.9 615.61L589.2 615.85L589.2 615.94H590.5V604.55H591.0V599.80H593.1V468.52H594.4V387.39H595.0V350.04H597.0V341.27H598.0V337.66H599.6V345.39H600.5V349.91H602.2V334.62H603.0V327.56H604.8V367.06H606.1V395.46H607.4V424.33H608.0V437.52H610.0V500.00H611.3V540.31H612.0V562.52H613.9V581.44H615.0V590.60H616.5V592.49L617.2 593.12L619.1 594.06L620.4 594.69L621.7 595.00L623.0 595.61L624.2 596.09H625.6V600.77H626.9V604.62H628.2V608.34H629.5V612.66H630.8V615.51H631.2V618.13L632.1 618.99L633.4 618.51L634.7 618.84L636.0 618.82L637.3 619.50L638.2 619.48L639.9 619.42H641.2V617.75L642.5 618.66L643.8 618.48L645.1 619.11L646.4 618.02L647.7 618.46L649.0 617.99L650.3 617.43L651.6 617.52L652.9 617.20L654.2 617.33L655.5 617.38L656.8 617.43L658.1 616.52L659.4 616.33L660.7 616.11L662.0 616.12L663.3 615.70L664.6 616.25L665.9 615.53L667.2 615.31L668.5 614.31L668.6 615.20H669.8V612.44H671.1V610.77H672.4V607.62H673.7V604.35L673.7 604.85H675.0V608.29H676.0V610.03H677.6V607.30H678.4V605.76H680.2V609.36H681.2V611.70L682.8 612.41L684.1 612.26L685.4 612.58L686.7 613.36L688.0 613.83L688.7 614.17H690.6V616.23L691.9 617.28L693.2 618.10L694.5 619.26L695.8 619.81H697.1V621.84L698.0 622.23L699.7 622.09L701.0 622.14L702.3 621.81L703.6 621.97L704.9 622.26L706.2 622.33L707.5 622.44L708.8 622.08L710.1 621.62L711.4 622.97H712.7V621.36L714.0 620.91L715.3 621.69L716.6 621.35L717.9 621.30L719.2 621.07L720.5 621.87L721.8 621.29L723.1 621.59H724.4V619.06H725.7V621.18L726.1 621.13L727.0 621.50L728.3 620.49L729.6 620.92L730.9 620.78L732.2 621.07L733.5 620.75L734.8 620.89L736.1 620.67L737.4 620.56L738.7 620.91L740.0 621.05L741.3 620.81L742.6 620.29L743.9 620.43L745.2 620.85L746.5 620.49L747.8 620.80L749.1 620.56L750.4 620.68L750.4 620.46L751.7 619.18L753.0 617.97H754.3V616.46H755.6V614.54L756.9 613.48L756.9 613.51L758.2 613.84L759.5 614.70L760.8 615.34L762.1 616.05L763.4 616.71L764.7 617.26L766.0 618.38L767.2 618.89L768.6 618.99L769.9 619.67L771.2 619.90L772.5 619.69L773.8 620.56L775.1 620.74L776.4 620.82L777.7 620.71L779.0 621.17L780.3 621.16L781.6 621.79L782.9 621.74L784.2 621.73L785.5 621.98L786.8 622.40L788.1 622.54L789.4 623.21L790.7 623.54L791.5 623.50L793.3 624.20L794.6 624.84L795.9 625.37L797.2 625.88L798.5 626.87L799.0 626.94H801.1V623.61H802.4V620.98H803.7V618.74L804.6 617.64H806.3V620.27L807.6 620.92L808.9 622.11H810.2V624.21L811.5 625.24L812.0 625.77L814.1 624.78L815.4 624.94L816.7 624.19L818.0 623.67L819.3 623.43L819.5 623.58L820.6 622.60H821.9V620.74H823.2V619.19L824.5 618.93H825.8V617.20L827.1 616.48H828.4V614.70L828.9 614.16H831.0V611.47H832.3V609.88H833.6V608.32H834.9V606.65L836.2 605.49L836.4 604.78L837.5 604.29L838.8 604.28L840.1 603.21L841.4 602.94L842.7 602.59L843.2 602.29H843.9V620.02L845.3 620.45L846.6 621.21L847.9 621.53L849.2 621.59L850.5 622.02L851.8 622.69L853.1 623.33L853.2 623.47L854.4 623.18L855.7 623.21L857.0 622.49L858.3 622.46L859.6 622.87L860.7 622.29L862.2 622.93L863.5 623.73L864.8 623.73L866.1 624.78L867.4 625.23L868.7 625.63L870.0 626.49L871.2 627.12L872.6 626.82H873.9V630.28H875.2V632.40L876.5 633.72H877.8V635.74L878.7 636.42H880.4V639.33H881.7V641.40L883.0 642.35H884.3V646.48H885.6V648.08H886.9V651.43L888.0 652.46H889.5V655.22H890.8V657.50H892.1V659.03H893.4V660.74H894.7V663.31L896.0 664.23H897.3V667.92L897.4 667.86L898.6 668.33L899.9 668.69L901.2 669.64L902.5 669.54L903.8 670.10L905.1 670.70L906.4 671.92L907.7 670.65L908.6 671.73L910.3 671.98L911.6 672.09L912.9 672.55L914.2 673.01L915.5 673.20L916.8 673.15L918.1 673.22L919.4 673.58L919.8 673.67L920.7 674.29L922.0 674.07L923.3 673.68L924.6 673.92L925.9 673.58L927.2 673.72L928.5 673.77L929.8 673.38L931.1 673.73L932.4 673.46L933.7 673.93L935.0 673.26L936.3 673.45L937.6 673.97L938.9 674.43L940.2 673.98L941.5 673.89L942.2 673.53H944.1V665.80H945.4V660.96H946.0V658.48H948.0V652.85H949.3V647.69L949.7 648.22L950.6 649.34H951.9V651.56H953.2V653.47H953.5V655.01H954.4V664.48H955.8V649.95H957.1V634.63L957.2 633.91H958.4V636.71H959.7V642.21H961.0V645.40H962.3V647.54H962.8V649.24H964.9V650.76H966.2V652.32L967.5 652.02H968.8V655.00L970.1 656.35H971.4V657.80L972.1 658.19L974.0 657.26L975.3 656.89H976.6V659.30L977.9 659.63H979.2V658.00L980.5 659.25H981.8V657.57L983.1 658.10L984.4 657.80L985.7 658.83L987.0 658.26H988.3V659.85L989.6 659.39L990.8 658.31L992.2 658.78L993.5 658.21L994.8 658.37L996.1 657.35L997.4 658.13L998.7 659.50L1000.0 658.75H1001.3V657.09L1002.6 657.06H1003.9V655.13H1005.2V659.76L1006.5 658.92L1007.8 658.44L1009.1 659.38L1009.5 658.25L1010.4 658.83L1011.7 658.04L1013.0 657.09H1014.3V658.92H1015.6V656.82L1016.9 658.17L1018.2 659.36H1019.5V656.68H1020.8V662.79H1022.1V659.71L1023.4 658.99L1024.7 657.70L1026.0 657.65L1027.3 657.62L1028.6 657.91L1029.9 656.70H1031.2V658.19H1032.5V659.62H1033.8V655.96H1035.1V662.76H1036.4V656.23L1037.7 656.47L1039.0 656.97L1040.3 657.43L1041.6 657.72H1042.9V659.66H1044.2V658.15L1045.0 657.88" fill="none" stroke="#0000cd" stroke-width="1.05"/>
<path d="M155.0 716.81L156.3 717.43L157.6 716.26H158.9V718.00L160.2 717.50L161.5 717.42L162.8 718.58L164.1 718.13L165.4 716.81H166.7V718.76L168.0 717.43L169.3 717.73L170.6 717.21H171.9V718.77L173.2 717.98L174.5 718.35L175.8 718.67L177.1 718.21L178.4 717.10H179.7V719.19L181.0 718.17L182.3 717.56L183.6 718.25L184.9 718.33L186.2 718.33L187.5 718.57L188.8 718.94L190.1 719.77L191.4 719.31L192.7 718.93L193.1 719.25L194.0 719.14H195.3V720.76L196.6 719.79L197.9 719.14H199.2V721.20L200.5 720.63L201.8 720.89L203.1 721.32L204.4 721.77L205.7 722.39L205.8 722.05H207.0V724.84H208.3V729.56H209.6V733.21L209.6 733.07H210.9V734.69H212.2V736.23L213.4 736.82H214.8V735.36L216.1 735.64L217.4 735.51L218.5 734.62H220.0V740.38H221.3V744.49H222.3V748.23L223.9 748.04H225.2V746.50H225.3V748.16H226.0V726.74H227.8V717.17H228.6V713.24H230.4V722.53H231.2V726.78H233.0V712.71H233.7V707.77H235.6V710.06H236.9V711.92L237.5 712.55H238.8V725.26H240.8V726.87L242.1 727.50L243.4 728.72L243.8 729.25L244.7 728.25L246.0 727.07L247.3 725.75H248.6V724.18H249.9V721.99H251.2V720.48L251.4 720.78H252.5V712.11H253.8V703.29H254.0V699.85L255.1 700.95H256.4V702.91H257.7V704.51H259.0V706.36L259.0 706.46H260.3V700.29H261.6V694.99L261.6 695.20L262.9 695.72L264.2 695.75L265.5 696.41L266.7 696.72L268.1 697.25L269.2 698.31L270.7 697.83L272.0 697.82L273.3 697.91L274.6 697.02L275.9 697.32L277.2 697.07L278.5 697.07L279.8 696.16L281.1 696.27H282.4V693.52H283.7V695.70L285.0 695.87L286.3 695.80L287.0 695.18L288.9 694.39L290.2 693.91L291.5 694.19L292.8 693.59L294.1 693.59L295.4 693.17L296.7 692.86L298.0 693.01L299.3 691.83L300.6 691.88L301.9 691.86L303.2 691.77L304.5 690.71L305.8 690.35H307.1V688.40H307.2V690.22L308.4 689.56L309.7 689.80L311.0 688.63L312.3 687.99L313.6 687.74L314.9 687.39L316.2 686.61L317.5 686.34L318.8 687.14H320.1V685.53L321.4 684.74L322.7 684.65L324.0 684.26L325.3 683.44L326.6 682.22L327.5 682.52L329.2 681.80L330.5 681.76L331.8 680.90L333.1 680.47L334.4 680.08L335.7 679.71L337.0 679.94L338.3 678.88L339.6 678.50L340.9 678.27L342.2 677.49L343.5 677.26L344.8 676.72L346.1 676.87L347.4 675.78L348.7 675.75L350.0 675.44L351.3 675.33L352.6 674.81L352.9 674.52L353.9 673.95L355.2 674.59L356.5 673.98L357.8 673.38L359.1 672.51L360.4 672.45L361.7 671.94L363.0 671.59L364.3 671.37L365.6 670.83L366.9 670.56L368.2 670.46L369.5 670.19L370.8 669.38L372.1 669.54L373.4 669.75L374.7 668.90L376.0 668.48L377.3 668.15L378.3 668.30L379.9 668.05L381.2 667.86L382.5 667.58L383.8 667.23L385.1 667.58L386.4 666.76L387.7 666.00L389.0 666.58L390.3 666.49L391.6 666.10L392.9 666.01L394.2 665.77L395.5 665.54L396.8 665.83L398.1 665.47L398.5 665.05L399.4 664.48L400.7 663.49L402.0 662.47L403.3 661.62L404.6 660.83L405.9 660.29L406.1 660.22H407.2V658.72H408.5V656.54H409.8V653.89H411.1V651.95L411.2 652.25H412.4V650.78H413.7V647.51H415.0V645.38H416.3V642.83L416.3 642.76H417.6V640.16H418.9V636.53H420.2V633.99H421.4V632.41H422.8V627.35H424.1V623.73H425.4V618.88H426.4V615.77H428.0V608.68H429.0V604.74H430.6V599.02H431.9V594.58H433.0V590.56H434.5V586.87H435.8V584.35H437.1V581.34H437.9V579.18H439.7V581.89H441.0V584.48L441.0 584.65H442.3V588.03H443.6V592.50H444.9V594.17H446.0V599.60H447.5V604.35H448.8V611.91H450.1V617.20H450.7V620.01H452.7V623.05H454.0V628.86H455.3V632.24L455.4 632.44H456.6V629.69H457.9V626.57H459.2V623.80H460.0V621.89H461.8V619.13H463.1V616.37L464.0 615.60H465.7V609.04H467.0V604.19L467.1 604.07H468.3V610.69H469.6V617.53H470.6V623.06H472.2V627.09H473.5V632.94H474.8V637.56H475.3V639.15H477.4V647.16H478.7V652.34L478.9 653.41H480.0V651.70H481.3V656.50H482.6V658.51L483.9 657.83H485.2V661.86L485.4 661.80L486.5 663.04L487.8 663.79L489.1 664.69H490.4V666.41L491.7 667.32L493.0 668.25H494.3V669.71L494.8 669.91L496.9 670.86L498.2 671.95L499.5 672.59L500.8 673.22L502.1 674.13L503.4 674.51L504.1 675.13L506.0 675.47L507.3 676.18L508.6 676.35L509.9 676.59L511.2 677.24L512.5 677.16L513.8 677.45L515.1 678.33L515.3 677.99L516.4 678.43L517.7 678.26L519.0 677.84L520.3 677.70L521.6 678.43L522.9 677.82L524.2 677.65L525.5 677.54L526.8 677.38L528.1 678.23L529.4 677.75L530.7 677.55L532.0 677.33L532.1 677.42L533.3 678.00L534.6 677.41L535.9 678.12L537.2 678.36L538.5 678.48L539.8 679.41L541.1 679.30L542.4 680.10H543.7V678.27H545.0V680.06L546.3 680.93L547.6 681.00L548.9 681.14L550.2 681.84L550.8 681.60L552.8 682.11L554.1 681.94L555.4 682.89L556.7 682.84L558.0 683.54L559.3 683.41L560.6 684.04L561.9 684.08L563.2 684.51L564.5 684.01L565.8 684.89L567.1 685.10L568.4 685.38L569.5 685.54L571.0 685.28L572.3 686.12L573.6 686.05L574.9 686.22L576.2 686.58L577.5 686.25L578.8 686.93L580.1 686.85L581.4 686.87L582.7 686.94L584.0 687.54L585.3 687.29L586.6 687.48L587.9 687.12L588.2 687.43L589.2 687.13L589.5 687.33H590.1V669.92H591.8V629.69H592.0V624.86H593.1V555.99H594.4V474.87H595.0V437.56H597.0V418.63H598.0V409.48H599.6V423.44H600.5V431.18H602.2V438.12H603.0V440.63H604.8V476.15H606.0V499.95H607.4V516.02H608.7V529.68H610.0V545.82H610.2V548.08H611.3V573.93H612.5V602.01H613.9V617.71H614.9V628.30H616.5V673.42L616.5 673.20H617.8V674.77H618.6V677.52H620.4V673.58L620.4 673.41L621.7 674.10L623.0 675.15L624.1 675.36H625.6V679.96L626.0 681.14L626.9 682.22H628.2V685.07H629.5V687.67L629.7 687.90H630.8V689.28L631.6 690.40L633.4 690.66L634.7 690.34L636.0 690.76L637.3 691.14L638.6 690.38L639.9 690.60L641.2 690.59L642.5 690.80L643.8 689.81L645.1 690.51L646.4 690.65L646.4 690.27L647.7 689.89L649.0 689.96L650.3 690.03L651.6 689.57L652.9 689.15L654.2 689.36L655.5 688.32L656.8 688.82L658.1 689.11L659.4 689.12L660.7 688.58L662.0 688.24L663.3 688.02L664.6 688.49L665.0 688.12L665.9 687.78L667.2 687.45L668.5 686.79L669.8 686.51L671.1 686.59L672.4 685.91L673.7 685.47L674.3 685.19L676.3 685.14L677.6 685.47L678.9 685.16L680.2 684.92L681.5 685.65L681.7 685.65L682.8 685.86L684.1 686.03L685.4 686.74L686.7 687.16L688.0 687.39L689.3 687.83L690.6 688.09L691.9 688.68L692.9 689.86L694.5 689.13L695.8 689.84L697.1 689.46L698.4 689.83L699.7 691.07L701.0 690.03L702.3 690.91L703.6 690.61L704.0 690.95L704.9 691.04L706.2 691.12L707.5 690.82L708.8 690.65L710.1 691.47L711.4 690.95L712.7 690.92L714.0 690.48L715.3 690.37L716.6 690.82L717.9 691.04L719.2 690.44L720.5 690.24L721.8 690.80L723.1 690.35L724.4 690.61L725.7 690.15L727.0 690.42L728.3 690.17L729.6 688.99L730.0 690.30L730.9 690.41L732.2 690.22L733.5 690.36H734.8V692.28H736.1V690.54L737.4 690.00L738.7 690.07L740.0 690.43L741.3 690.15L742.6 689.88L743.9 689.90L745.2 689.80L746.5 690.28L747.8 689.97L749.1 689.93L750.4 689.46L751.7 690.12L753.0 690.10L754.3 690.17L755.6 689.48L756.9 690.09L757.8 689.70L759.5 689.91L760.8 689.88L762.1 690.12L763.4 689.54L764.7 689.99L766.0 690.22L767.3 690.59L768.6 690.05L769.9 690.28L771.2 690.59L772.5 690.14L773.8 690.20L775.1 690.33L776.4 690.49L776.4 690.35L777.7 690.77L779.0 690.92L780.3 691.40L781.6 692.17L782.9 692.19L784.2 692.48L785.5 692.53L785.7 692.64L786.8 693.64L788.1 694.54L789.4 694.80L790.7 695.75L792.0 696.51L793.3 697.36L794.6 696.37H795.0V698.41H795.9V699.83H797.2V701.42L798.5 702.08H799.6V703.70H801.1V701.24H802.4V698.95L803.7 697.69H804.3V696.32L806.3 696.29L807.6 696.46L808.9 696.82L810.2 697.28L811.5 697.38L812.8 697.30L813.6 697.22L815.4 696.53L816.7 696.72L818.0 696.67L819.3 696.49L820.6 696.42L821.9 695.75L822.8 695.56L824.5 695.17L825.8 694.24L827.1 693.94H828.4V692.48L829.7 692.92L831.0 692.09L832.1 691.54L833.6 690.86L834.9 689.84L836.2 688.60L836.8 688.60H838.8V691.13L840.1 691.92L841.4 693.26L841.4 693.21H842.7V695.19H844.0V697.03H845.3V698.86H846.6V701.12L846.9 701.51L847.9 701.87H849.2V703.30L850.4 703.67L851.8 703.86L853.1 704.26L854.4 704.35L855.7 703.78H857.0V705.71H858.3V704.02L859.6 703.88L860.9 704.21L862.2 704.03L863.5 704.04L864.3 704.25H866.1V706.30H867.4V707.82L867.8 708.06L868.7 708.92L870.0 709.34L871.3 710.16L872.6 711.29L873.9 711.66L874.7 712.42H876.5V713.95L877.8 714.57L879.1 715.51L880.4 716.67L881.7 717.77L883.0 718.46L883.4 718.85L884.3 719.26H885.6V720.92L886.9 722.20L888.2 723.39L889.5 724.27L890.8 725.60L892.0 726.63H893.4V728.04L894.7 729.08L896.0 730.26L897.3 730.53H898.6V732.76L899.0 732.99L899.9 733.51L901.2 733.54L902.5 734.05H903.8V735.58L905.1 734.81L905.9 734.65L907.7 734.51L909.0 734.47L910.3 735.15L911.6 734.80L912.9 734.94L914.2 734.55L915.5 734.62L916.8 734.56L918.1 734.67L918.1 734.62L919.4 734.51L920.7 733.89L922.0 734.53L923.3 733.37L924.6 734.67L925.9 733.29L926.7 733.12L928.5 732.92L929.8 733.13L931.1 732.91L932.4 732.23L933.7 732.20L935.0 732.00L936.3 732.75L937.6 732.21L938.9 732.18H940.2V734.67H941.5V731.97L942.4 731.89H944.1V729.81H945.4V728.35L946.7 727.72H947.6V726.05L949.3 726.05L950.6 725.99L951.9 725.50L953.2 725.07H954.5V727.58H955.8V722.85L957.1 723.87L958.0 722.88L959.7 723.22L961.0 722.71L962.3 721.70L963.6 721.30L964.9 721.31L966.2 720.12H967.5V716.54H968.8V720.00H970.1V718.43L970.1 718.97H971.4V715.87H972.7V719.20H974.0V716.41L975.3 717.15H976.6V719.08H977.9V717.21L979.2 715.88H980.5V717.81L981.8 717.53L983.1 717.57L984.4 717.67L985.7 718.26L987.0 717.63L987.5 716.37L989.6 717.24L990.9 717.27L992.2 716.82H993.5V715.05H994.8V716.90L996.1 717.73H997.4V716.32L998.7 714.97H1000.0V717.06L1001.3 716.39L1002.6 716.97L1003.9 717.98L1004.8 716.94L1006.5 717.25H1007.8V711.92H1009.1V715.91L1010.4 716.13L1011.7 715.75L1013.0 717.01H1014.3V715.31L1015.6 716.16L1016.9 716.02L1018.2 715.71L1019.5 716.76H1020.8V721.46H1022.1V716.43L1022.2 716.06L1023.4 715.68L1024.7 716.94L1026.0 716.52L1027.3 715.58L1028.6 716.79H1029.9V714.36H1031.2V718.19H1032.5V713.78H1033.8V715.60H1035.1V713.59H1036.4V716.09H1037.7V713.44L1039.0 714.46L1040.3 714.82L1041.6 715.43H1042.9V713.81H1044.2V715.46L1044.7 714.91" fill="none" stroke="#e00000" stroke-width="1.05"/>
<path d="M155.0 798.82H156.1V795.63L157.2 795.67H158.3V793.07H159.4V789.90H160.5V803.26H161.6V795.38H162.7V798.10H163.8V793.23L164.9 793.42H166.0V798.13L167.1 796.92H168.2V804.25H169.3V802.51L170.4 801.57H171.5V808.06H172.6V800.60H173.7V795.41H174.8V804.30H175.0V801.67H177.0V797.74H178.1V806.52H179.2V801.97H180.3V798.26H181.4V790.06H182.5V794.90L183.6 793.91H184.7V803.01H185.8V793.29H186.9V802.33L188.0 803.37H189.1V796.17L190.2 794.96H191.3V792.70H192.4V797.26H193.5V795.13L194.6 795.63H195.7V794.16H196.8V795.54H197.9V804.71H199.0V795.43H200.0V794.03H201.2V791.04H202.3V797.65H203.4V793.11H204.5V796.11L205.6 795.42H206.7V791.60H207.8V784.99H208.9V794.28H210.0V783.69H211.1V799.12H212.2V788.10H213.3V791.81H214.4V793.42H215.5V789.46H216.6V799.49H217.7V790.20H218.8V794.79L219.9 796.05H221.0V801.75H222.1V798.74H223.2V801.85H224.3V798.27H225.4V783.91H226.0V794.55H227.6V791.73H228.7V794.28L229.8 793.54H230.9V798.99H232.0V783.35H233.1V794.33H234.2V790.91H235.3V784.67H236.4V798.57H237.5V783.87H238.6V790.30L239.7 790.39H240.8V787.04H241.9V796.88H243.0V789.04H244.1V783.54H245.2V798.17H246.0V786.57H247.4V787.96H248.5V785.73L249.6 785.27H250.7V792.98H251.8V785.78H252.9V795.89H254.0V787.12H255.1V796.57H256.2V783.34H257.3V800.83H258.4V797.31L259.5 797.59H260.0V791.28H261.7V788.45H262.8V791.18H263.9V796.26H265.0V798.45L266.1 798.30H267.2V794.59H268.3V792.67H269.4V808.46H270.5V789.38H271.6V808.05H272.7V789.88H273.8V802.74H274.9V799.93H276.0V792.58H277.0V799.39H278.2V783.60H279.3V791.61H280.4V786.18H281.5V789.77L282.6 789.85H283.7V792.87H284.8V804.67H285.9V797.42H287.0V800.32H288.1V806.52H289.2V799.42H290.3V797.73H291.4V805.24H292.5V800.63H293.6V793.66H294.7V797.16H295.8V784.72H296.9V799.54H298.0V795.35H299.1V802.99L300.0 802.77H301.3V804.93H302.4V786.76H303.5V798.11H304.6V795.19H305.7V805.62H306.8V803.92H307.9V801.03L309.0 800.56L310.1 799.21H311.2V795.18H312.3V801.50H313.4V796.78H314.5V800.07H315.0V803.76H316.7V800.75H317.8V814.83H318.9V803.44H320.0V797.75H321.1V805.67H322.2V800.04H323.3V804.46H324.4V801.67H325.5V807.95H326.6V804.96H327.7V801.59H328.8V798.13H329.9V813.07H331.0V801.05H332.1V802.89L333.2 802.20H334.3V800.19L335.0 799.35L336.5 799.34H337.6V796.49H338.7V806.86H339.8V813.25H340.9V797.98H342.0V801.82H343.1V805.41H344.2V796.16H345.3V797.57L346.4 797.16H347.5V808.54H348.6V803.88H349.7V796.03H350.8V800.84L351.9 800.65L353.0 800.16H353.0V797.06H354.1V799.73L355.2 800.99H356.3V802.55H357.4V800.15H358.5V796.13L359.6 796.86H360.7V802.98H361.8V813.51H362.9V793.92H364.0V803.53H365.1V798.05H366.2V796.56H367.3V780.46H368.4V799.58H369.5V793.94L370.6 792.86H371.7V798.56H372.8V790.96L373.9 790.10H375.0V796.61L375.0 796.67H376.1V800.80H377.2V797.25H378.3V794.89H379.4V797.32H380.5V799.89H381.6V801.94H382.7V796.46L383.8 797.56H384.9V802.78H386.0V804.16H387.1V801.78L388.2 801.09H389.3V791.69H390.4V781.13H391.0V788.31H392.6V791.09H393.7V783.02H394.8V794.77H395.9V797.39H397.0V779.35L398.1 778.71H399.2V785.75L400.3 784.99H401.4V796.19H402.5V786.09H403.6V783.66L403.6 783.35H404.7V774.89H405.8V772.20L406.9 773.25H408.0V779.55H409.1V770.95H410.2V775.50H411.0V778.28H412.4V774.39H413.5V769.20H413.8V764.02H415.7V753.33H416.8V756.58H417.9V760.80H418.8V756.42H420.1V758.62H421.2V755.61H422.3V763.17L423.4 763.32L424.5 762.74L424.7 763.06L426.7 763.61H427.8V758.45L428.4 757.82H430.0V745.21H430.3V739.07L432.2 738.63L433.3 737.40L434.4 736.11L435.0 736.72H436.6V743.98H437.7V753.24L437.8 752.40H438.7V762.22H439.9V766.52H441.0V763.34H442.1V760.58H442.4V764.22H444.3V762.08L445.4 763.11H446.2V759.94H447.6V766.52H448.7V760.60H449.8V766.73L449.9 766.54H450.9V771.19L452.0 770.41H453.1V773.38H453.6V775.84H455.3V778.06H456.4V784.92H457.4V780.43H458.6V766.66H459.3V770.33H460.8V765.61H461.9V753.48H462.1V759.41H464.1V769.70H464.9V766.70L466.3 765.99H467.4V771.87H467.7V779.15L469.6 778.74H470.7V780.54H471.8V783.27L472.3 782.05L474.0 782.65H475.1V778.89H476.2V780.79H477.3V789.33H477.9V787.68L479.5 787.01H480.6V790.06L481.7 789.40L481.7 790.52L482.8 790.00L483.9 788.74L485.0 788.35H486.1V792.47H487.2V789.71L488.3 790.92H489.4V787.56H490.5V796.12H491.6V790.35H492.7V786.17H493.8V792.56H494.8V789.35H496.0V791.95L497.1 791.43H498.2V793.48H499.3V787.99H500.4V784.73H501.5V789.64L502.6 790.32H503.7V788.85L504.8 788.24H505.9V792.13H507.0V790.42H508.1V785.48H509.2V788.41H510.3V784.31H511.4V786.52H512.5V782.64H513.5V784.83L514.7 784.08H515.8V782.31H516.9V786.64L518.0 787.41H519.1V785.38H520.2V783.05H521.3V790.61H522.4V781.68H523.5V785.65L524.6 785.42H525.7V789.20H526.8V784.02H527.9V786.81H529.0V783.47H530.1V789.26H531.2V784.51H532.1V785.94H533.4V787.86L534.5 787.47L535.6 788.39L536.7 787.70H537.8V790.71H538.9V783.74H540.0V786.85L541.1 787.41L542.2 786.39H543.3V788.82L544.4 787.65H545.5V786.15H546.6V788.18H547.7V783.50H548.8V785.27H549.9V783.14H550.8V785.34H552.1V782.64L553.2 782.55H554.3V785.66L555.4 784.89H556.5V781.96H557.6V784.92H558.7V787.92H559.8V785.07H560.9V781.80H562.0V784.48H563.1V782.31L564.2 782.88H565.3V787.33H566.4V781.29H567.5V788.66H568.6V783.41H569.5V785.33H570.8V782.85H571.9V787.94H573.0V783.49L574.1 783.45L575.2 783.11H576.3V787.51L577.4 787.00L578.5 786.64H579.6V789.57H580.7V786.83H581.8V784.87H582.9V792.05H584.0V785.35L585.1 785.61H586.2V790.31H587.3V787.41L588.2 787.50H589.5V785.34H590.6V788.88L591.7 790.02H592.0V792.83L593.9 793.14H595.0V795.65H596.1V793.36H597.2V795.25H598.3V797.49L599.4 796.33L599.4 796.51H600.5V799.15H601.6V794.26H602.7V800.29H603.8V795.81L604.9 794.76H606.0V791.85L606.9 791.69L608.2 791.26H609.3V787.14H610.4V788.94L611.5 788.88H612.6V791.37H613.7V788.34H614.8V785.91H615.9V788.57L616.3 787.70L618.1 789.05L619.2 788.17H620.3V784.20L621.4 783.47H622.5V785.43L623.6 784.56H624.7V786.57L625.6 786.25L626.9 786.97H628.0V789.41H629.1V788.03L630.2 788.18H631.2V790.40L632.4 790.47H633.5V787.84H634.6V780.87H635.7V783.33H636.8V781.08L636.8 781.98H637.9V771.38H638.1V776.83H640.1V779.29H641.2V781.57L642.3 780.85L643.4 782.04H644.5V784.51L644.6 783.27H645.6V779.96H646.7V782.39H647.8V785.28H648.9V790.53L650.0 790.49L650.1 789.88H651.1V792.11H652.2V790.02L653.3 789.47H654.4V786.39L655.5 786.31H656.6V788.32H657.7V785.43H658.8V789.35H659.9V787.64H661.0V790.29H662.1V784.15H663.2V788.34H664.3V783.86L665.0 784.71H666.5V790.07L667.6 790.29H668.7V787.22H669.8V790.78H670.9V789.03L672.0 787.97H673.1V791.15H674.2V786.03H674.3V788.12H675.3V782.51H676.4V790.17H677.5V781.94H678.6V788.90L679.7 790.25L680.8 790.28H681.9V792.09L683.0 790.71H684.1V794.05H685.2V786.86H686.3V793.76L687.4 794.17H688.5V790.94H689.6V795.75H690.7V791.70H691.8V797.97H692.9V793.58L692.9 792.89L694.0 793.04H695.1V794.49H696.2V798.33L697.3 798.85H698.4V794.64H699.5V797.21H700.6V793.74H701.7V792.29H702.8V803.43H703.9V791.10H705.0V796.61H706.1V794.96L707.2 793.95H708.3V798.09L709.4 798.90H710.5V794.95L711.4 795.56L712.7 796.23L713.8 796.34H714.9V794.00H716.0V797.15H717.1V795.02H718.2V791.78H719.3V793.35L720.4 793.58L721.5 793.33L722.6 794.51L723.7 793.93L724.8 794.16H725.9V792.73H726.3V791.23H728.1V789.76L729.2 790.78H730.3V789.13L731.4 789.48L732.5 789.94H733.6V794.84L734.7 794.35L735.6 794.11H736.9V791.84H738.0V789.42H739.1V793.05H740.2V786.43H741.3V788.64L742.4 788.60L743.5 788.05L744.6 788.64H744.8V784.08H746.7V759.15H747.9V737.10H748.6V723.21H750.1V704.40H751.2V696.34L751.3 695.73L752.3 695.45L753.4 696.79L754.1 696.53H755.6V706.13H756.7V713.44H756.9V717.93H758.9V697.69H759.3V693.60H761.1V701.94H762.2V709.77H762.5V711.32H764.3V735.49H765.5V750.35H766.2V760.54H767.7V764.27H768.8V767.22H769.9V774.13L769.9 773.61H771.0V778.80L772.1 779.62H773.2V782.30H773.6V784.01H775.4V778.60H776.5V790.77H777.6V785.83H778.7V780.73H779.8V787.68H780.9V781.44H782.0V777.84H783.1V775.30L784.2 775.75H785.3V784.37H785.7V782.87H787.5V777.64H788.6V780.24H789.7V775.53H790.8V779.62H791.9V783.14H793.0V780.66H794.1V777.44L795.0 777.56L796.3 778.80L797.4 779.42H798.5V776.09L799.6 776.83H800.7V780.35H801.8V777.28H802.9V771.86H804.0V780.71H804.3V776.13H806.2V771.35H807.3V783.77H808.4V786.25H809.5V783.39H810.6V781.00H811.7V783.16L811.7 783.86H812.8V776.51H813.9V785.64L815.0 785.32H816.1V779.13H817.2V789.01H818.3V785.54H819.4V787.70H820.5V783.76H821.6V777.58H822.7V782.44H822.8V779.75L823.8 780.82H824.9V775.06L826.0 775.82H827.1V778.41H828.2V773.98H829.3V772.47H830.4V779.40H831.5V775.86L832.1 776.07H833.7V771.69H834.0V769.66H835.8V750.76H837.0V737.30H837.7V732.34H838.6V712.61H840.3V711.07H841.4V709.67L841.4 710.14H842.5V711.94L843.6 712.23L844.2 712.63H845.2V728.19H846.9V746.68H847.0V743.90H848.0V747.73H849.1V752.49H849.5V755.39H851.3V770.59H852.1V773.58H853.5V767.61H854.6V761.12H855.7V768.72L856.8 768.22L857.3 769.21L859.0 769.25H860.1V771.44H861.2V770.05H862.3V774.40H863.4V764.27H864.5V776.37H865.6V787.72H866.0V780.13L867.8 778.81H868.9V776.91L870.0 776.72H871.1V780.60H872.2V771.99H873.3V774.15H874.4V772.30H874.7V774.34H876.6V766.16H877.3V761.09H878.8V726.16L879.0 725.75H881.0V724.35H881.6V720.73L883.2 719.65H884.2V713.73L885.4 712.92L886.5 713.01H886.8V716.98H888.7V719.37H889.8V723.48L890.3 722.71H892.0V736.56L892.0 736.26H893.1V745.93H894.2V752.76L895.3 753.93H895.5V758.82H897.5V762.37H898.6V766.88H899.0V764.96H900.8V772.45H901.9V778.69H902.5V776.96H904.1V772.35H905.2V760.29H906.3V779.87H907.4V787.30L908.5 787.22H909.4V784.18H910.7V797.02H911.8V783.84H912.9V793.39H914.0V784.22H915.1V809.54H916.2V801.38H917.3V782.29H918.1V789.75H919.5V795.91H920.6V785.94H921.7V795.02H922.8V802.68H923.9V792.79H925.0V796.44H926.1V797.93L926.7 798.80H928.3V794.40H929.4V805.68H930.5V795.25L931.6 796.53H932.7V804.88H933.8V811.22H934.9V801.44L936.0 800.23H937.1V803.75H937.2V805.14L938.2 804.56H939.3V812.15H940.4V800.63H941.5V793.49H942.6V800.52H943.7V797.51H944.1V793.24H945.9V780.75H947.0V788.64H948.1V785.33H949.2V793.27H950.3V779.25H951.4V789.74H952.5V799.51H953.6V789.50H954.7V798.74H955.8V801.91H956.9V797.43H958.0V790.02L958.0 791.25H959.1V787.82L960.2 789.06L961.3 788.17H962.4V777.73H963.5V783.22L964.6 783.83L965.7 784.50H966.6V780.23H967.9V781.74L969.0 780.63H970.1V789.69H971.2V781.39L972.3 782.09H973.4V786.59L974.5 786.12H975.6V781.30H976.7V793.41H977.8V785.64H978.8V791.66L980.0 791.57H981.1V800.31H982.2V796.22H983.3V785.58H984.4V791.42H985.5V797.10H986.6V785.93H987.7V794.25H988.8V779.42H989.9V795.32H991.0V799.45H992.1V794.45H993.2V792.46H994.3V784.17L995.4 784.14H996.1V787.23H997.6V791.71H998.7V787.43H999.8V794.28H1000.9V786.46H1002.0V791.61H1003.1V789.56H1004.2V786.63H1005.3V783.84H1006.4V790.49H1007.5V772.79H1008.6V798.98H1009.7V782.57H1010.8V787.88H1011.9V795.88H1013.0V777.18H1013.5V782.50H1015.2V788.82H1016.3V774.90H1017.4V780.60H1018.5V779.20H1019.6V781.16H1020.7V777.53H1021.8V772.38L1022.9 772.74H1024.0V775.73H1025.1V754.89H1026.2V777.36H1027.3V763.42H1027.4V773.90H1028.4V769.61H1029.5V781.11H1030.6V774.32L1031.7 774.53H1032.8V768.68H1033.9V773.73H1035.0V776.50H1036.0V771.93H1037.2V778.33H1038.3V766.03H1039.4V774.44H1040.5V752.98H1041.6V755.46L1042.7 754.95H1043.8V751.94H1043.9V753.48H1044.7V766.13" fill="none" stroke="#8700d7" stroke-width="1.05"/></g>
<path d="M154.1 46 V1338 H1047.4" fill="none" stroke="#0000d4" stroke-width="2.1" stroke-linecap="square"/><path d="M154.1 1146.8 H172" stroke="#0000d4" stroke-width="2.1"/><path d="M154.1 955.5 H172" stroke="#0000d4" stroke-width="2.1"/><path d="M154.1 764.2 H172" stroke="#0000d4" stroke-width="2.1"/><path d="M154.1 573.0 H172" stroke="#0000d4" stroke-width="2.1"/><path d="M154.1 381.7 H172" stroke="#0000d4" stroke-width="2.1"/><path d="M154.1 190.4 H172" stroke="#0000d4" stroke-width="2.1"/><path d="M289.3 1338 V1320" stroke="#0000d4" stroke-width="2.1"/><path d="M424.6 1338 V1320" stroke="#0000d4" stroke-width="2.1"/><path d="M559.8 1338 V1320" stroke="#0000d4" stroke-width="2.1"/><path d="M695.0 1338 V1320" stroke="#0000d4" stroke-width="2.1"/><path d="M830.3 1338 V1320" stroke="#0000d4" stroke-width="2.1"/><path d="M965.5 1338 V1320" stroke="#0000d4" stroke-width="2.1"/>
<g opacity="0.995"><g transform="matrix(0.7600 0 0 1.0333 119.88 198.10)"><text x="0" y="0" font-size="50" >1</text></g><g transform="matrix(1.0000 0 0 1.0147 79.60 389.24)"><text x="0" y="0" font-size="50" >0.8</text></g><g transform="matrix(1.0119 0 0 1.0206 79.18 580.43)"><text x="0" y="0" font-size="50" >0.6</text></g><g transform="matrix(0.9992 0 0 1.0382 79.20 772.12)"><text x="0" y="0" font-size="50" >0.4</text></g><g transform="matrix(1.0338 0 0 1.0382 79.13 964.22)"><text x="0" y="0" font-size="50" >0.2</text></g><g transform="matrix(1.0381 0 0 0.9896 116.92 1153.91)"><text x="0" y="0" font-size="50" >0</text></g><g transform="matrix(1.0013 0 0 1.0088 63.75 1344.74)"><text x="0" y="0" font-size="50" >-0.2</text></g><g transform="matrix(0.9959 0 0 1.0044 105.20 1389.70)"><text x="0" y="0" font-size="50" >4000</text></g><g transform="matrix(1.0052 0 0 1.0044 239.79 1389.70)"><text x="0" y="0" font-size="50" >3500</text></g><g transform="matrix(1.0052 0 0 1.0044 375.19 1389.70)"><text x="0" y="0" font-size="50" >3000</text></g><g transform="matrix(1.0026 0 0 1.0044 510.34 1389.70)"><text x="0" y="0" font-size="50" >2500</text></g><g transform="matrix(1.0057 0 0 1.0044 644.84 1389.70)"><text x="0" y="0" font-size="50" >2000</text></g><g transform="matrix(0.9786 0 0 1.0044 782.70 1389.70)"><text x="0" y="0" font-size="50" >1500</text></g><g transform="matrix(0.9936 0 0 1.0044 916.93 1389.70)"><text x="0" y="0" font-size="50" >1000</text></g><g transform="matrix(0.9936 0 0 0.9845 57.30 782.39)"><text transform="rotate(-90)" x="0" y="0" font-size="56" >Absorbance</text></g><g transform="matrix(0.9908 0 0 1.0190 361.00 1467.63)"><text x="0" y="0" font-size="56" >Wavenumber (cm<tspan font-size="38" dy="-15.7">-1</tspan><tspan dy="15.7">)</tspan></text></g><g transform="matrix(0.9979 0 0 0.9658 1052.55 336.96)"><text x="0" y="0" font-size="39.2" >21 min after Ar flush</text></g><g transform="matrix(0.9937 0 0 0.9658 1053.92 397.86)"><text x="0" y="0" font-size="39.2" >19 min after Ar flush</text></g><g transform="matrix(0.9971 0 0 0.9658 1062.11 451.16)"><text x="0" y="0" font-size="39.2" >7 min after Ar flush</text></g><g transform="matrix(0.9905 0 0 0.9658 1064.13 524.16)"><text x="0" y="0" font-size="39.2" >1 min after Ar flush</text></g><g transform="matrix(0.9872 0 0 0.9702 992.16 609.10)"><text x="0" y="0" font-size="39.2" >Time (min)</text></g><g transform="matrix(1.0286 0 0 1.0019 1059.74 681.95)"><text x="0" y="0" font-size="39.2" >32</text></g><g transform="matrix(0.9944 0 0 1.0057 1059.36 756.65)"><text x="0" y="0" font-size="39.2" >25</text></g><g transform="matrix(0.9771 0 0 1.0154 1059.29 846.70)"><text x="0" y="0" font-size="39.2" >21</text></g><g transform="matrix(0.9869 0 0 1.0362 1061.25 910.74)"><text x="0" y="0" font-size="39.2" >10</text></g><g transform="matrix(0.9651 0 0 1.0154 1069.63 965.75)"><text x="0" y="0" font-size="39.2" >5</text></g><g transform="matrix(1.0137 0 0 1.0252 1069.44 1014.10)"><text x="0" y="0" font-size="39.2" >4</text></g><g transform="matrix(1.0000 0 0 1.0362 1069.00 1069.14)"><text x="0" y="0" font-size="39.2" >3</text></g><g transform="matrix(0.8145 0 0 1.0602 1071.35 1155.20)"><text x="0" y="0" font-size="39.2" >1</text></g><g transform="matrix(0.9941 0 0 0.9538 1089.46 1245.69)"><text x="0" y="0" font-size="39.2" >DMC gas phase</text></g><g transform="matrix(1.0526 0 0 1.0000 605.74 143.50)"><text transform="rotate(-90)" x="0" y="0" font-size="35.5" >2345</text></g><g transform="matrix(1.1158 0 0 1.0536 854.52 331.22)"><text transform="rotate(-90)" x="0" y="0" font-size="35.5" >1458</text></g><g transform="matrix(1.1368 0 0 1.0472 887.52 341.10)"><text transform="rotate(-90)" x="0" y="0" font-size="35.5" >1397</text></g><g transform="matrix(1.0611 0 0 1.0221 669.23 798.53)"><text transform="rotate(-90)" x="0" y="0" font-size="35.5" >2138</text></g><g transform="matrix(1.0821 0 0 1.0044 473.43 951.21)"><text transform="rotate(-90)" x="0" y="0" font-size="35.5" >2888</text></g><g transform="matrix(1.0947 0 0 1.0052 692.23 1068.81)"><text transform="rotate(-90)" x="0" y="0" font-size="35.5" >2061</text></g><g transform="matrix(1.0723 0 0 1.0038 774.20 1077.56)"><text transform="rotate(-90)" x="0" y="0" font-size="35.5" >1742</text></g><g transform="matrix(1.0947 0 0 0.9888 821.13 1086.21)"><text transform="rotate(-90)" x="0" y="0" font-size="35.5" >1596</text></g><g transform="matrix(1.0653 0 0 0.9710 851.03 1079.16)"><text transform="rotate(-90)" x="0" y="0" font-size="35.5" >1484</text></g><g transform="matrix(1.1453 0 0 1.0577 977.71 1146.44)"><text transform="rotate(-90)" x="0" y="0" font-size="35.5" >1036</text></g><g transform="matrix(1.0365 0 0 1.0261 663.26 650.84)"><text transform="rotate(-90)" x="0" y="0" font-size="35.5" >CO<tspan font-size="24" dy="11">(g)</tspan></text></g><g transform="matrix(1.0465 0 0 1.0254 445.79 1164.24)"><text transform="rotate(-90)" x="0" y="0" font-size="35.5" >CH<tspan font-size="24" dy="11">3</tspan><tspan dy="-11">OH</tspan><tspan font-size="24" dy="11">(g)</tspan></text></g><g transform="matrix(1.0316 0 0 0.9924 602.31 1194.29)"><text transform="rotate(-90)" x="0" y="0" font-size="38.5" >CO<tspan font-size="25" dy="11.8">2(g)</tspan></text></g><path d="M992 615.4 H1167.5" stroke="#000" stroke-width="1.6"/></g>
</svg></body></html>
